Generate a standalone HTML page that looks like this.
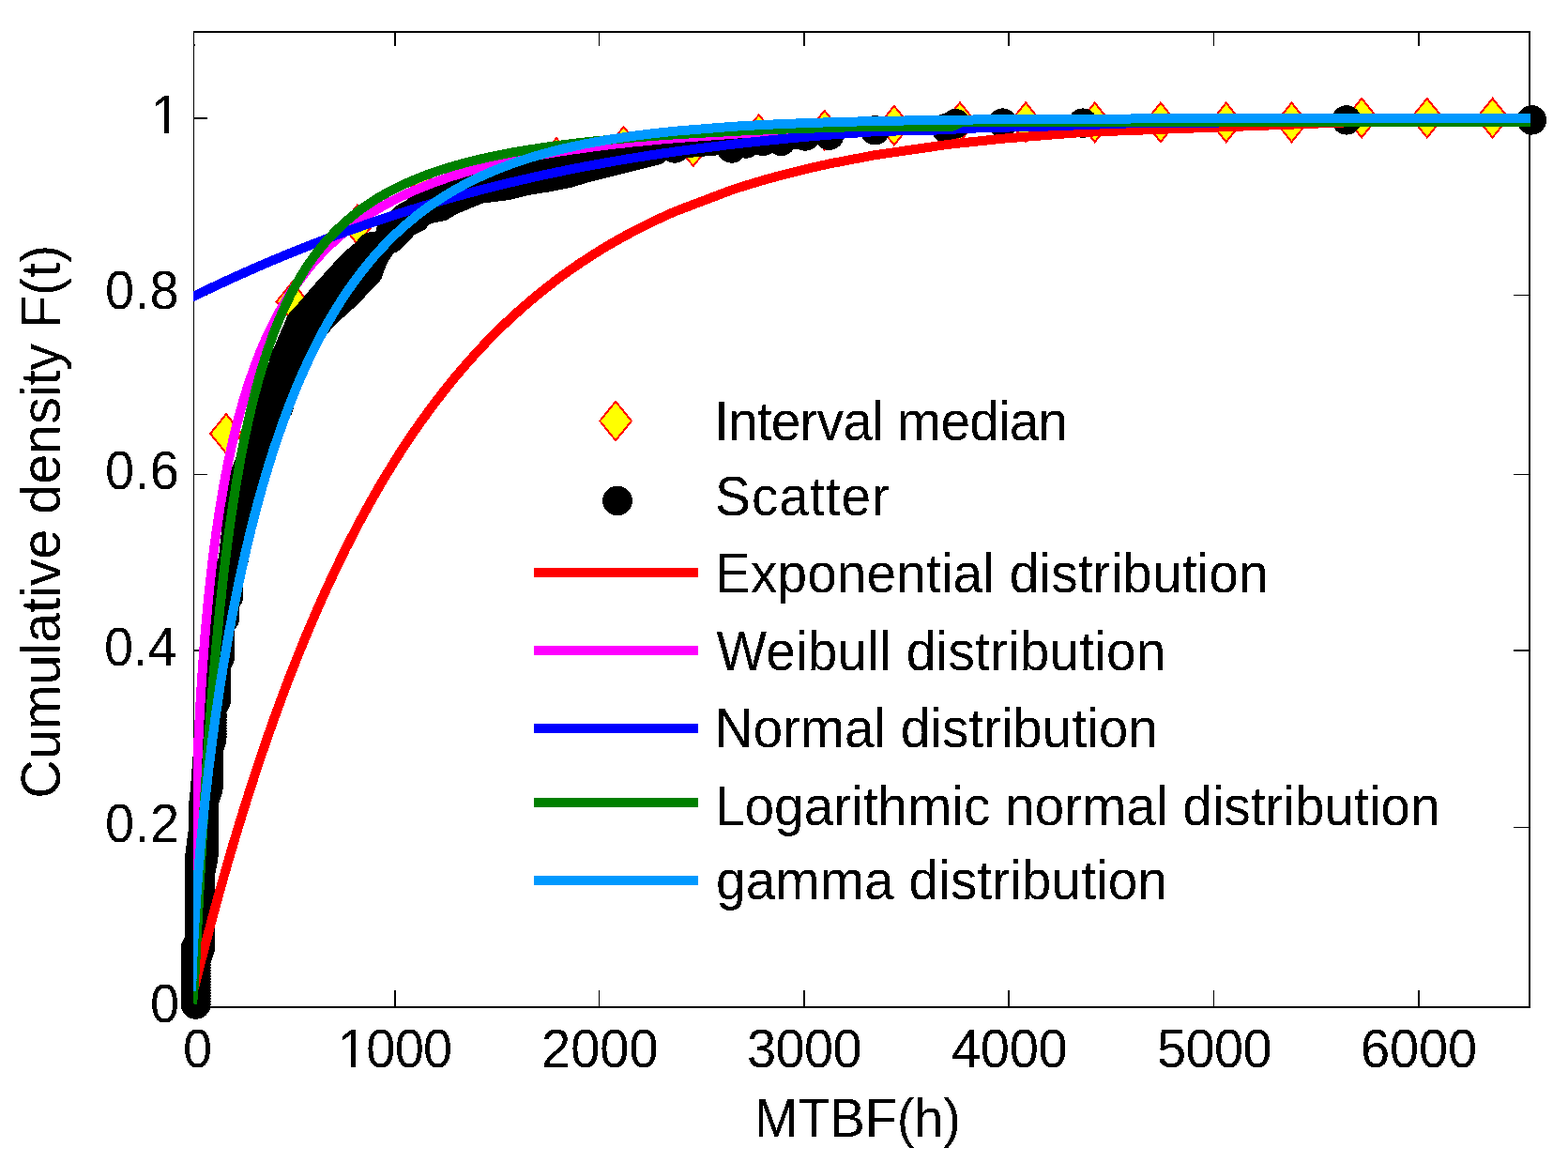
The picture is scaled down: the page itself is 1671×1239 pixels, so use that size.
<!DOCTYPE html><html><head><meta charset="utf-8"><title>MTBF cumulative density</title><style>html,body{margin:0;padding:0;background:#fff;overflow:hidden}svg{display:block}text{font-family:"Liberation Sans",Arial,Helvetica,sans-serif;fill:#000}</style></head><body>
<svg width="1671" height="1239" viewBox="0 0 1671 1239" shape-rendering="crispEdges">
<rect width="1671" height="1239" fill="#fff"/>
<defs><clipPath id="ax"><rect x="206" y="33" width="1425" height="1041"/></clipPath><filter id="bin" x="-5%" y="-20%" width="110%" height="140%" color-interpolation-filters="sRGB"><feComponentTransfer><feFuncA type="discrete" tableValues="0 1"/></feComponentTransfer></filter></defs>
<g fill="#000"><rect x="206" y="33" width="1" height="1041"/><rect x="1629" y="33" width="2" height="1041"/><rect x="206" y="33" width="1425" height="2"/><rect x="206" y="1072" width="1425" height="2"/><rect x="206" y="47" width="2" height="2"/></g>
<g fill="#000"><rect x="206" y="125.25" width="15" height="1.5"/><rect x="1613" y="125.25" width="17" height="1.5"/><rect x="206" y="313.75" width="15" height="1.5"/><rect x="1613" y="313.75" width="17" height="1.5"/><rect x="206" y="504.55" width="15" height="1.5"/><rect x="1613" y="504.55" width="17" height="1.5"/><rect x="206" y="692.05" width="15" height="1.5"/><rect x="1613" y="692.05" width="17" height="1.5"/><rect x="206" y="880.75" width="15" height="1.5"/><rect x="1613" y="880.75" width="17" height="1.5"/><rect x="420.25" y="1055" width="1.5" height="17"/><rect x="420.25" y="35" width="1.5" height="14"/><rect x="637.75" y="1055" width="1.5" height="17"/><rect x="637.75" y="35" width="1.5" height="14"/><rect x="856.25" y="1055" width="1.5" height="17"/><rect x="856.25" y="35" width="1.5" height="14"/><rect x="1074.25" y="1055" width="1.5" height="17"/><rect x="1074.25" y="35" width="1.5" height="14"/><rect x="1292.75" y="1055" width="1.5" height="17"/><rect x="1292.75" y="35" width="1.5" height="14"/><rect x="1511.25" y="1055" width="1.5" height="17"/><rect x="1511.25" y="35" width="1.5" height="14"/></g>
<g clip-path="url(#ax)">
<g fill="#ff0" stroke="#f00" stroke-width="2" stroke-linejoin="miter"><path d="M241.0,441.2 L257.9,462.0 L241.0,482.8 L224.1,462.0 Z"/><path d="M311.5,300.6 L328.4,321.4 L311.5,342.2 L294.6,321.4 Z"/><path d="M380.9,218.5 L397.8,239.3 L380.9,260.1 L364.0,239.3 Z"/><path d="M452.0,183.2 L468.9,204.0 L452.0,224.8 L435.1,204.0 Z"/><path d="M522.0,163.2 L538.9,184.0 L522.0,204.8 L505.1,184.0 Z"/><path d="M593.0,147.2 L609.9,168.0 L593.0,188.8 L576.1,168.0 Z"/><path d="M664.6,135.1 L681.5,155.9 L664.6,176.7 L647.7,155.9 Z"/><path d="M738.8,135.3 L755.7,156.1 L738.8,176.9 L721.9,156.1 Z"/><path d="M808.8,122.3 L825.7,143.1 L808.8,163.9 L791.9,143.1 Z"/><path d="M878.7,117.9 L895.6,138.7 L878.7,159.5 L861.8,138.7 Z"/><path d="M952.9,112.9 L969.8,133.7 L952.9,154.5 L936.0,133.7 Z"/><path d="M1023.0,109.3 L1039.9,130.1 L1023.0,150.9 L1006.1,130.1 Z"/><path d="M1093.1,109.3 L1110.0,130.1 L1093.1,150.9 L1076.2,130.1 Z"/><path d="M1166.7,109.6 L1183.6,130.4 L1166.7,151.2 L1149.8,130.4 Z"/><path d="M1236.9,109.6 L1253.8,130.4 L1236.9,151.2 L1220.0,130.4 Z"/><path d="M1306.7,109.6 L1323.6,130.4 L1306.7,151.2 L1289.8,130.4 Z"/><path d="M1376.5,109.6 L1393.4,130.4 L1376.5,151.2 L1359.6,130.4 Z"/><path d="M1451.1,104.9 L1468.0,125.7 L1451.1,146.5 L1434.2,125.7 Z"/><path d="M1520.8,104.9 L1537.7,125.7 L1520.8,146.5 L1503.9,125.7 Z"/><path d="M1590.6,104.9 L1607.5,125.7 L1590.6,146.5 L1573.7,125.7 Z"/></g>
</g>
<g fill="#000"><circle cx="208.4" cy="1070.0" r="15.7"/><circle cx="208.9" cy="1070.0" r="15.7"/><circle cx="208.4" cy="1067.0" r="15.7"/><circle cx="208.9" cy="1067.0" r="15.7"/><circle cx="208.4" cy="1064.0" r="15.7"/><circle cx="208.9" cy="1064.0" r="15.7"/><circle cx="208.4" cy="1061.0" r="15.7"/><circle cx="208.9" cy="1061.0" r="15.7"/><circle cx="208.4" cy="1058.0" r="15.7"/><circle cx="208.9" cy="1058.0" r="15.7"/><circle cx="208.4" cy="1055.0" r="15.7"/><circle cx="208.9" cy="1055.0" r="15.7"/><circle cx="208.4" cy="1052.0" r="15.7"/><circle cx="208.9" cy="1052.0" r="15.7"/><circle cx="208.4" cy="1049.0" r="15.7"/><circle cx="208.9" cy="1049.0" r="15.7"/><circle cx="208.4" cy="1046.0" r="15.7"/><circle cx="208.9" cy="1046.0" r="15.7"/><circle cx="208.4" cy="1043.0" r="15.7"/><circle cx="208.9" cy="1043.0" r="15.7"/><circle cx="208.4" cy="1040.0" r="15.7"/><circle cx="208.9" cy="1040.0" r="15.7"/><circle cx="208.4" cy="1037.0" r="15.7"/><circle cx="208.9" cy="1037.0" r="15.7"/><circle cx="208.4" cy="1034.0" r="15.7"/><circle cx="208.9" cy="1034.0" r="15.7"/><circle cx="208.4" cy="1031.0" r="15.7"/><circle cx="208.9" cy="1031.0" r="15.7"/><circle cx="208.4" cy="1028.0" r="15.7"/><circle cx="208.9" cy="1028.0" r="15.7"/><circle cx="208.4" cy="1025.0" r="15.7"/><circle cx="208.9" cy="1025.0" r="15.7"/><circle cx="208.4" cy="1022.0" r="15.7"/><circle cx="209.2" cy="1022.0" r="15.7"/><circle cx="208.4" cy="1019.0" r="15.7"/><circle cx="210.3" cy="1019.0" r="15.7"/><circle cx="208.4" cy="1016.0" r="15.7"/><circle cx="211.3" cy="1016.0" r="15.7"/><circle cx="208.4" cy="1013.0" r="15.7"/><circle cx="212.4" cy="1013.0" r="15.7"/><circle cx="208.4" cy="1010.0" r="15.7"/><circle cx="213.4" cy="1010.0" r="15.7"/><circle cx="210.1" cy="1007.0" r="15.7"/><circle cx="213.4" cy="1007.0" r="15.7"/><circle cx="211.8" cy="1004.0" r="15.7"/><circle cx="213.4" cy="1004.0" r="15.7"/><circle cx="212.4" cy="1001.0" r="15.7"/><circle cx="213.4" cy="1001.0" r="15.7"/><circle cx="212.4" cy="998.0" r="15.7"/><circle cx="213.4" cy="998.0" r="15.7"/><circle cx="212.4" cy="995.0" r="15.7"/><circle cx="213.4" cy="995.0" r="15.7"/><circle cx="212.4" cy="992.0" r="15.7"/><circle cx="213.4" cy="992.0" r="15.7"/><circle cx="212.5" cy="989.0" r="15.7"/><circle cx="213.3" cy="989.0" r="15.7"/><circle cx="212.5" cy="986.0" r="15.7"/><circle cx="213.3" cy="986.0" r="15.7"/><circle cx="212.5" cy="983.0" r="15.7"/><circle cx="213.3" cy="983.0" r="15.7"/><circle cx="212.5" cy="980.0" r="15.7"/><circle cx="213.3" cy="980.0" r="15.7"/><circle cx="212.5" cy="977.0" r="15.7"/><circle cx="213.3" cy="977.0" r="15.7"/><circle cx="212.5" cy="974.0" r="15.7"/><circle cx="213.3" cy="974.0" r="15.7"/><circle cx="212.5" cy="971.0" r="15.7"/><circle cx="213.3" cy="971.0" r="15.7"/><circle cx="212.5" cy="968.0" r="15.7"/><circle cx="213.3" cy="968.0" r="15.7"/><circle cx="212.6" cy="965.0" r="15.7"/><circle cx="213.2" cy="965.0" r="15.7"/><circle cx="212.6" cy="962.0" r="15.7"/><circle cx="213.2" cy="962.0" r="15.7"/><circle cx="212.6" cy="959.0" r="15.7"/><circle cx="213.2" cy="959.0" r="15.7"/><circle cx="212.6" cy="956.0" r="15.7"/><circle cx="213.2" cy="956.0" r="15.7"/><circle cx="212.6" cy="953.0" r="15.7"/><circle cx="213.2" cy="953.0" r="15.7"/><circle cx="212.6" cy="950.0" r="15.7"/><circle cx="213.2" cy="950.0" r="15.7"/><circle cx="212.6" cy="947.0" r="15.7"/><circle cx="213.2" cy="947.0" r="15.7"/><circle cx="212.6" cy="944.0" r="15.7"/><circle cx="213.2" cy="944.0" r="15.7"/><circle cx="212.7" cy="941.0" r="15.7"/><circle cx="213.1" cy="941.0" r="15.7"/><circle cx="212.7" cy="938.0" r="15.7"/><circle cx="213.1" cy="938.0" r="15.7"/><circle cx="212.7" cy="935.0" r="15.7"/><circle cx="213.1" cy="935.0" r="15.7"/><circle cx="212.7" cy="932.0" r="15.7"/><circle cx="213.1" cy="932.0" r="15.7"/><circle cx="212.7" cy="929.0" r="15.7"/><circle cx="213.7" cy="929.0" r="15.7"/><circle cx="212.7" cy="926.0" r="15.7"/><circle cx="214.3" cy="926.0" r="15.7"/><circle cx="212.7" cy="923.0" r="15.7"/><circle cx="214.9" cy="923.0" r="15.7"/><circle cx="212.7" cy="920.0" r="15.7"/><circle cx="215.6" cy="920.0" r="15.7"/><circle cx="212.7" cy="917.0" r="15.7"/><circle cx="216.2" cy="917.0" r="15.7"/><circle cx="212.7" cy="914.0" r="15.7"/><circle cx="216.8" cy="914.0" r="15.7"/><circle cx="213.0" cy="911.0" r="15.7"/><circle cx="217.0" cy="911.0" r="15.7"/><circle cx="213.4" cy="908.0" r="15.7"/><circle cx="217.0" cy="908.0" r="15.7"/><circle cx="213.7" cy="905.0" r="15.7"/><circle cx="217.0" cy="905.0" r="15.7"/><circle cx="214.1" cy="902.0" r="15.7"/><circle cx="217.0" cy="902.0" r="15.7"/><circle cx="214.5" cy="899.0" r="15.7"/><circle cx="217.0" cy="899.0" r="15.7"/><circle cx="214.9" cy="896.0" r="15.7"/><circle cx="217.0" cy="896.0" r="15.7"/><circle cx="215.3" cy="893.0" r="15.7"/><circle cx="217.0" cy="893.0" r="15.7"/><circle cx="215.7" cy="890.0" r="15.7"/><circle cx="217.0" cy="890.0" r="15.7"/><circle cx="216.1" cy="887.0" r="15.7"/><circle cx="217.0" cy="887.0" r="15.7"/><circle cx="216.5" cy="884.0" r="15.7"/><circle cx="217.0" cy="884.0" r="15.7"/><circle cx="216.9" cy="881.0" r="15.7"/><circle cx="217.0" cy="881.0" r="15.7"/><circle cx="217.0" cy="878.0" r="15.7"/><circle cx="217.0" cy="878.0" r="15.7"/><circle cx="217.0" cy="875.0" r="15.7"/><circle cx="217.0" cy="875.0" r="15.7"/><circle cx="217.0" cy="872.0" r="15.7"/><circle cx="217.0" cy="872.0" r="15.7"/><circle cx="217.0" cy="869.0" r="15.7"/><circle cx="217.0" cy="869.0" r="15.7"/><circle cx="217.0" cy="866.0" r="15.7"/><circle cx="217.0" cy="866.0" r="15.7"/><circle cx="217.0" cy="863.0" r="15.7"/><circle cx="217.0" cy="863.0" r="15.7"/><circle cx="217.0" cy="860.0" r="15.7"/><circle cx="217.0" cy="860.0" r="15.7"/><circle cx="217.0" cy="857.0" r="15.7"/><circle cx="217.0" cy="857.0" r="15.7"/><circle cx="217.1" cy="854.0" r="15.7"/><circle cx="217.3" cy="854.0" r="15.7"/><circle cx="217.4" cy="851.0" r="15.7"/><circle cx="218.3" cy="851.0" r="15.7"/><circle cx="217.7" cy="848.0" r="15.7"/><circle cx="219.3" cy="848.0" r="15.7"/><circle cx="218.1" cy="845.0" r="15.7"/><circle cx="220.3" cy="845.0" r="15.7"/><circle cx="218.4" cy="842.0" r="15.7"/><circle cx="221.3" cy="842.0" r="15.7"/><circle cx="218.7" cy="839.0" r="15.7"/><circle cx="222.0" cy="839.0" r="15.7"/><circle cx="218.9" cy="836.0" r="15.7"/><circle cx="222.0" cy="836.0" r="15.7"/><circle cx="219.1" cy="833.0" r="15.7"/><circle cx="222.0" cy="833.0" r="15.7"/><circle cx="219.3" cy="830.0" r="15.7"/><circle cx="222.0" cy="830.0" r="15.7"/><circle cx="219.6" cy="827.0" r="15.7"/><circle cx="222.0" cy="827.0" r="15.7"/><circle cx="219.8" cy="824.0" r="15.7"/><circle cx="222.0" cy="824.0" r="15.7"/><circle cx="220.0" cy="821.0" r="15.7"/><circle cx="222.0" cy="821.0" r="15.7"/><circle cx="220.2" cy="818.0" r="15.7"/><circle cx="222.0" cy="818.0" r="15.7"/><circle cx="220.5" cy="815.0" r="15.7"/><circle cx="222.0" cy="815.0" r="15.7"/><circle cx="220.7" cy="812.0" r="15.7"/><circle cx="222.0" cy="812.0" r="15.7"/><circle cx="220.9" cy="809.0" r="15.7"/><circle cx="222.0" cy="809.0" r="15.7"/><circle cx="221.2" cy="806.0" r="15.7"/><circle cx="222.0" cy="806.0" r="15.7"/><circle cx="221.4" cy="803.0" r="15.7"/><circle cx="222.0" cy="803.0" r="15.7"/><circle cx="221.6" cy="800.0" r="15.7"/><circle cx="222.0" cy="800.0" r="15.7"/><circle cx="222.5" cy="797.0" r="15.7"/><circle cx="222.9" cy="797.0" r="15.7"/><circle cx="223.4" cy="794.0" r="15.7"/><circle cx="223.8" cy="794.0" r="15.7"/><circle cx="224.4" cy="791.0" r="15.7"/><circle cx="224.7" cy="791.0" r="15.7"/><circle cx="225.3" cy="788.0" r="15.7"/><circle cx="225.6" cy="788.0" r="15.7"/><circle cx="225.6" cy="785.0" r="15.7"/><circle cx="225.9" cy="785.0" r="15.7"/><circle cx="225.6" cy="782.0" r="15.7"/><circle cx="225.9" cy="782.0" r="15.7"/><circle cx="225.6" cy="779.0" r="15.7"/><circle cx="225.9" cy="779.0" r="15.7"/><circle cx="225.6" cy="776.0" r="15.7"/><circle cx="225.9" cy="776.0" r="15.7"/><circle cx="225.6" cy="773.0" r="15.7"/><circle cx="225.9" cy="773.0" r="15.7"/><circle cx="225.6" cy="770.0" r="15.7"/><circle cx="225.9" cy="770.0" r="15.7"/><circle cx="225.6" cy="767.0" r="15.7"/><circle cx="225.9" cy="767.0" r="15.7"/><circle cx="225.6" cy="764.0" r="15.7"/><circle cx="225.9" cy="764.0" r="15.7"/><circle cx="225.6" cy="761.0" r="15.7"/><circle cx="225.9" cy="761.0" r="15.7"/><circle cx="225.6" cy="758.0" r="15.7"/><circle cx="225.9" cy="758.0" r="15.7"/><circle cx="225.6" cy="755.0" r="15.7"/><circle cx="225.9" cy="755.0" r="15.7"/><circle cx="226.3" cy="752.0" r="15.7"/><circle cx="226.7" cy="752.0" r="15.7"/><circle cx="228.3" cy="749.0" r="15.7"/><circle cx="228.9" cy="749.0" r="15.7"/><circle cx="229.6" cy="746.0" r="15.7"/><circle cx="230.4" cy="746.0" r="15.7"/><circle cx="229.6" cy="743.0" r="15.7"/><circle cx="230.4" cy="743.0" r="15.7"/><circle cx="229.6" cy="740.0" r="15.7"/><circle cx="230.4" cy="740.0" r="15.7"/><circle cx="229.6" cy="737.0" r="15.7"/><circle cx="230.4" cy="737.0" r="15.7"/><circle cx="229.6" cy="734.0" r="15.7"/><circle cx="230.4" cy="734.0" r="15.7"/><circle cx="229.6" cy="731.0" r="15.7"/><circle cx="230.4" cy="731.0" r="15.7"/><circle cx="229.6" cy="728.0" r="15.7"/><circle cx="230.4" cy="728.0" r="15.7"/><circle cx="229.6" cy="725.0" r="15.7"/><circle cx="230.4" cy="725.0" r="15.7"/><circle cx="229.6" cy="722.0" r="15.7"/><circle cx="230.4" cy="722.0" r="15.7"/><circle cx="229.6" cy="719.0" r="15.7"/><circle cx="230.4" cy="719.0" r="15.7"/><circle cx="229.6" cy="716.0" r="15.7"/><circle cx="230.4" cy="716.0" r="15.7"/><circle cx="229.6" cy="713.0" r="15.7"/><circle cx="230.4" cy="713.0" r="15.7"/><circle cx="229.6" cy="710.0" r="15.7"/><circle cx="230.4" cy="710.0" r="15.7"/><circle cx="229.6" cy="707.0" r="15.7"/><circle cx="230.4" cy="707.0" r="15.7"/><circle cx="231.3" cy="704.0" r="15.7"/><circle cx="231.9" cy="704.0" r="15.7"/><circle cx="233.8" cy="701.0" r="15.7"/><circle cx="234.1" cy="701.0" r="15.7"/><circle cx="234.6" cy="698.0" r="15.7"/><circle cx="234.8" cy="698.0" r="15.7"/><circle cx="234.6" cy="695.0" r="15.7"/><circle cx="234.8" cy="695.0" r="15.7"/><circle cx="234.6" cy="692.0" r="15.7"/><circle cx="234.8" cy="692.0" r="15.7"/><circle cx="234.6" cy="689.0" r="15.7"/><circle cx="234.8" cy="689.0" r="15.7"/><circle cx="234.6" cy="686.0" r="15.7"/><circle cx="234.8" cy="686.0" r="15.7"/><circle cx="234.6" cy="683.0" r="15.7"/><circle cx="234.8" cy="683.0" r="15.7"/><circle cx="234.6" cy="680.0" r="15.7"/><circle cx="234.8" cy="680.0" r="15.7"/><circle cx="234.6" cy="677.0" r="15.7"/><circle cx="234.8" cy="677.0" r="15.7"/><circle cx="234.6" cy="674.0" r="15.7"/><circle cx="234.8" cy="674.0" r="15.7"/><circle cx="234.6" cy="671.0" r="15.7"/><circle cx="234.8" cy="671.0" r="15.7"/><circle cx="234.6" cy="668.0" r="15.7"/><circle cx="234.8" cy="668.0" r="15.7"/><circle cx="234.6" cy="665.0" r="15.7"/><circle cx="234.8" cy="665.0" r="15.7"/><circle cx="234.6" cy="662.0" r="15.7"/><circle cx="234.8" cy="662.0" r="15.7"/><circle cx="238.6" cy="659.0" r="15.7"/><circle cx="239.3" cy="659.0" r="15.7"/><circle cx="238.6" cy="656.0" r="15.7"/><circle cx="239.3" cy="656.0" r="15.7"/><circle cx="238.6" cy="653.0" r="15.7"/><circle cx="239.3" cy="653.0" r="15.7"/><circle cx="238.6" cy="650.0" r="15.7"/><circle cx="239.3" cy="650.0" r="15.7"/><circle cx="238.6" cy="647.0" r="15.7"/><circle cx="239.3" cy="647.0" r="15.7"/><circle cx="238.6" cy="644.0" r="15.7"/><circle cx="239.3" cy="644.0" r="15.7"/><circle cx="238.6" cy="641.0" r="15.7"/><circle cx="239.3" cy="641.0" r="15.7"/><circle cx="241.6" cy="638.0" r="15.7"/><circle cx="242.0" cy="638.0" r="15.7"/><circle cx="243.6" cy="635.0" r="15.7"/><circle cx="243.8" cy="635.0" r="15.7"/><circle cx="243.6" cy="632.0" r="15.7"/><circle cx="243.8" cy="632.0" r="15.7"/><circle cx="243.6" cy="629.0" r="15.7"/><circle cx="243.8" cy="629.0" r="15.7"/><circle cx="243.6" cy="626.0" r="15.7"/><circle cx="243.8" cy="626.0" r="15.7"/><circle cx="243.6" cy="623.0" r="15.7"/><circle cx="243.8" cy="623.0" r="15.7"/><circle cx="243.6" cy="620.0" r="15.7"/><circle cx="243.8" cy="620.0" r="15.7"/><circle cx="243.6" cy="617.0" r="15.7"/><circle cx="243.8" cy="617.0" r="15.7"/><circle cx="243.8" cy="614.0" r="15.7"/><circle cx="244.1" cy="614.0" r="15.7"/><circle cx="244.6" cy="611.0" r="15.7"/><circle cx="244.9" cy="611.0" r="15.7"/><circle cx="245.3" cy="608.0" r="15.7"/><circle cx="245.8" cy="608.0" r="15.7"/><circle cx="246.1" cy="605.0" r="15.7"/><circle cx="246.6" cy="605.0" r="15.7"/><circle cx="246.8" cy="602.0" r="15.7"/><circle cx="247.4" cy="602.0" r="15.7"/><circle cx="247.6" cy="599.0" r="15.7"/><circle cx="248.3" cy="599.0" r="15.7"/><circle cx="248.3" cy="596.0" r="15.7"/><circle cx="249.1" cy="596.0" r="15.7"/><circle cx="248.8" cy="593.0" r="15.7"/><circle cx="249.8" cy="593.0" r="15.7"/><circle cx="249.1" cy="590.0" r="15.7"/><circle cx="250.3" cy="590.0" r="15.7"/><circle cx="249.4" cy="587.0" r="15.7"/><circle cx="250.8" cy="587.0" r="15.7"/><circle cx="249.7" cy="584.0" r="15.7"/><circle cx="251.4" cy="584.0" r="15.7"/><circle cx="250.0" cy="581.0" r="15.7"/><circle cx="251.9" cy="581.0" r="15.7"/><circle cx="250.3" cy="578.0" r="15.7"/><circle cx="252.5" cy="578.0" r="15.7"/><circle cx="250.7" cy="575.0" r="15.7"/><circle cx="253.0" cy="575.0" r="15.7"/><circle cx="251.0" cy="572.0" r="15.7"/><circle cx="253.5" cy="572.0" r="15.7"/><circle cx="251.3" cy="569.0" r="15.7"/><circle cx="254.1" cy="569.0" r="15.7"/><circle cx="251.6" cy="566.0" r="15.7"/><circle cx="254.6" cy="566.0" r="15.7"/><circle cx="251.9" cy="563.0" r="15.7"/><circle cx="255.1" cy="563.0" r="15.7"/><circle cx="252.2" cy="560.0" r="15.7"/><circle cx="255.7" cy="560.0" r="15.7"/><circle cx="252.5" cy="557.0" r="15.7"/><circle cx="256.2" cy="557.0" r="15.7"/><circle cx="252.8" cy="554.0" r="15.7"/><circle cx="256.9" cy="554.0" r="15.7"/><circle cx="253.1" cy="551.0" r="15.7"/><circle cx="257.7" cy="551.0" r="15.7"/><circle cx="253.4" cy="548.0" r="15.7"/><circle cx="258.5" cy="548.0" r="15.7"/><circle cx="253.7" cy="545.0" r="15.7"/><circle cx="259.2" cy="545.0" r="15.7"/><circle cx="254.0" cy="542.0" r="15.7"/><circle cx="260.0" cy="542.0" r="15.7"/><circle cx="254.3" cy="539.0" r="15.7"/><circle cx="257.6" cy="539.0" r="15.7"/><circle cx="260.8" cy="539.0" r="15.7"/><circle cx="254.7" cy="536.0" r="15.7"/><circle cx="258.1" cy="536.0" r="15.7"/><circle cx="261.5" cy="536.0" r="15.7"/><circle cx="255.0" cy="533.0" r="15.7"/><circle cx="258.6" cy="533.0" r="15.7"/><circle cx="262.3" cy="533.0" r="15.7"/><circle cx="255.3" cy="530.0" r="15.7"/><circle cx="259.2" cy="530.0" r="15.7"/><circle cx="263.1" cy="530.0" r="15.7"/><circle cx="255.6" cy="527.0" r="15.7"/><circle cx="259.7" cy="527.0" r="15.7"/><circle cx="263.8" cy="527.0" r="15.7"/><circle cx="255.9" cy="524.0" r="15.7"/><circle cx="260.2" cy="524.0" r="15.7"/><circle cx="264.6" cy="524.0" r="15.7"/><circle cx="256.2" cy="521.0" r="15.7"/><circle cx="260.8" cy="521.0" r="15.7"/><circle cx="265.4" cy="521.0" r="15.7"/><circle cx="256.5" cy="518.0" r="15.7"/><circle cx="261.3" cy="518.0" r="15.7"/><circle cx="266.1" cy="518.0" r="15.7"/><circle cx="257.4" cy="515.0" r="15.7"/><circle cx="262.1" cy="515.0" r="15.7"/><circle cx="266.8" cy="515.0" r="15.7"/><circle cx="258.6" cy="512.0" r="15.7"/><circle cx="262.9" cy="512.0" r="15.7"/><circle cx="267.3" cy="512.0" r="15.7"/><circle cx="259.8" cy="509.0" r="15.7"/><circle cx="263.8" cy="509.0" r="15.7"/><circle cx="267.9" cy="509.0" r="15.7"/><circle cx="260.9" cy="506.0" r="15.7"/><circle cx="264.7" cy="506.0" r="15.7"/><circle cx="268.4" cy="506.0" r="15.7"/><circle cx="262.1" cy="503.0" r="15.7"/><circle cx="265.6" cy="503.0" r="15.7"/><circle cx="269.0" cy="503.0" r="15.7"/><circle cx="263.3" cy="500.0" r="15.7"/><circle cx="266.4" cy="500.0" r="15.7"/><circle cx="269.5" cy="500.0" r="15.7"/><circle cx="264.5" cy="497.0" r="15.7"/><circle cx="270.1" cy="497.0" r="15.7"/><circle cx="265.7" cy="494.0" r="15.7"/><circle cx="270.6" cy="494.0" r="15.7"/><circle cx="266.9" cy="491.0" r="15.7"/><circle cx="271.2" cy="491.0" r="15.7"/><circle cx="268.0" cy="488.0" r="15.7"/><circle cx="271.7" cy="488.0" r="15.7"/><circle cx="269.2" cy="485.0" r="15.7"/><circle cx="272.3" cy="485.0" r="15.7"/><circle cx="270.4" cy="482.0" r="15.7"/><circle cx="272.8" cy="482.0" r="15.7"/><circle cx="271.6" cy="479.0" r="15.7"/><circle cx="273.4" cy="479.0" r="15.7"/><circle cx="272.5" cy="476.0" r="15.7"/><circle cx="274.9" cy="476.0" r="15.7"/><circle cx="273.4" cy="473.0" r="15.7"/><circle cx="276.3" cy="473.0" r="15.7"/><circle cx="274.3" cy="470.0" r="15.7"/><circle cx="277.8" cy="470.0" r="15.7"/><circle cx="275.2" cy="467.0" r="15.7"/><circle cx="279.2" cy="467.0" r="15.7"/><circle cx="276.1" cy="464.0" r="15.7"/><circle cx="280.7" cy="464.0" r="15.7"/><circle cx="277.1" cy="461.0" r="15.7"/><circle cx="282.1" cy="461.0" r="15.7"/><circle cx="278.0" cy="458.0" r="15.7"/><circle cx="283.6" cy="458.0" r="15.7"/><circle cx="278.9" cy="455.0" r="15.7"/><circle cx="282.0" cy="455.0" r="15.7"/><circle cx="285.0" cy="455.0" r="15.7"/><circle cx="279.8" cy="452.0" r="15.7"/><circle cx="283.1" cy="452.0" r="15.7"/><circle cx="286.5" cy="452.0" r="15.7"/><circle cx="280.7" cy="449.0" r="15.7"/><circle cx="284.3" cy="449.0" r="15.7"/><circle cx="287.9" cy="449.0" r="15.7"/><circle cx="281.6" cy="446.0" r="15.7"/><circle cx="285.5" cy="446.0" r="15.7"/><circle cx="289.4" cy="446.0" r="15.7"/><circle cx="283.2" cy="443.0" r="15.7"/><circle cx="287.2" cy="443.0" r="15.7"/><circle cx="291.2" cy="443.0" r="15.7"/><circle cx="284.8" cy="440.0" r="15.7"/><circle cx="289.0" cy="440.0" r="15.7"/><circle cx="293.1" cy="440.0" r="15.7"/><circle cx="286.4" cy="437.0" r="15.7"/><circle cx="290.7" cy="437.0" r="15.7"/><circle cx="294.9" cy="437.0" r="15.7"/><circle cx="288.1" cy="434.0" r="15.7"/><circle cx="292.4" cy="434.0" r="15.7"/><circle cx="296.8" cy="434.0" r="15.7"/><circle cx="289.2" cy="431.0" r="15.7"/><circle cx="293.5" cy="431.0" r="15.7"/><circle cx="297.8" cy="431.0" r="15.7"/><circle cx="290.1" cy="428.0" r="15.7"/><circle cx="294.2" cy="428.0" r="15.7"/><circle cx="298.4" cy="428.0" r="15.7"/><circle cx="291.0" cy="425.0" r="15.7"/><circle cx="295.0" cy="425.0" r="15.7"/><circle cx="299.0" cy="425.0" r="15.7"/><circle cx="291.9" cy="422.0" r="15.7"/><circle cx="295.7" cy="422.0" r="15.7"/><circle cx="299.5" cy="422.0" r="15.7"/><circle cx="292.8" cy="419.0" r="15.7"/><circle cx="296.5" cy="419.0" r="15.7"/><circle cx="300.1" cy="419.0" r="15.7"/><circle cx="293.7" cy="416.0" r="15.7"/><circle cx="297.2" cy="416.0" r="15.7"/><circle cx="300.7" cy="416.0" r="15.7"/><circle cx="294.6" cy="413.0" r="15.7"/><circle cx="298.0" cy="413.0" r="15.7"/><circle cx="301.3" cy="413.0" r="15.7"/><circle cx="295.5" cy="410.0" r="15.7"/><circle cx="298.7" cy="410.0" r="15.7"/><circle cx="301.9" cy="410.0" r="15.7"/><circle cx="296.4" cy="407.0" r="15.7"/><circle cx="299.4" cy="407.0" r="15.7"/><circle cx="302.5" cy="407.0" r="15.7"/><circle cx="297.3" cy="404.0" r="15.7"/><circle cx="303.0" cy="404.0" r="15.7"/><circle cx="298.2" cy="401.0" r="15.7"/><circle cx="303.6" cy="401.0" r="15.7"/><circle cx="299.2" cy="398.0" r="15.7"/><circle cx="304.2" cy="398.0" r="15.7"/><circle cx="300.1" cy="395.0" r="15.7"/><circle cx="304.8" cy="395.0" r="15.7"/><circle cx="301.0" cy="392.0" r="15.7"/><circle cx="305.4" cy="392.0" r="15.7"/><circle cx="301.9" cy="389.0" r="15.7"/><circle cx="306.0" cy="389.0" r="15.7"/><circle cx="302.8" cy="386.0" r="15.7"/><circle cx="306.5" cy="386.0" r="15.7"/><circle cx="303.7" cy="383.0" r="15.7"/><circle cx="307.1" cy="383.0" r="15.7"/><circle cx="304.8" cy="380.0" r="15.7"/><circle cx="308.7" cy="380.0" r="15.7"/><circle cx="306.1" cy="377.0" r="15.7"/><circle cx="311.2" cy="377.0" r="15.7"/><circle cx="307.3" cy="374.0" r="15.7"/><circle cx="310.5" cy="374.0" r="15.7"/><circle cx="313.7" cy="374.0" r="15.7"/><circle cx="308.6" cy="371.0" r="15.7"/><circle cx="312.4" cy="371.0" r="15.7"/><circle cx="316.2" cy="371.0" r="15.7"/><circle cx="309.9" cy="368.0" r="15.7"/><circle cx="314.3" cy="368.0" r="15.7"/><circle cx="318.6" cy="368.0" r="15.7"/><circle cx="311.2" cy="365.0" r="15.7"/><circle cx="316.2" cy="365.0" r="15.7"/><circle cx="321.1" cy="365.0" r="15.7"/><circle cx="312.5" cy="362.0" r="15.7"/><circle cx="318.0" cy="362.0" r="15.7"/><circle cx="323.6" cy="362.0" r="15.7"/><circle cx="313.7" cy="359.0" r="15.7"/><circle cx="317.9" cy="359.0" r="15.7"/><circle cx="322.0" cy="359.0" r="15.7"/><circle cx="326.1" cy="359.0" r="15.7"/><circle cx="315.0" cy="356.0" r="15.7"/><circle cx="319.5" cy="356.0" r="15.7"/><circle cx="324.1" cy="356.0" r="15.7"/><circle cx="328.6" cy="356.0" r="15.7"/><circle cx="316.3" cy="353.0" r="15.7"/><circle cx="321.2" cy="353.0" r="15.7"/><circle cx="326.1" cy="353.0" r="15.7"/><circle cx="331.0" cy="353.0" r="15.7"/><circle cx="317.6" cy="350.0" r="15.7"/><circle cx="322.9" cy="350.0" r="15.7"/><circle cx="328.2" cy="350.0" r="15.7"/><circle cx="333.5" cy="350.0" r="15.7"/><circle cx="318.9" cy="347.0" r="15.7"/><circle cx="324.6" cy="347.0" r="15.7"/><circle cx="330.3" cy="347.0" r="15.7"/><circle cx="336.0" cy="347.0" r="15.7"/><circle cx="320.1" cy="344.0" r="15.7"/><circle cx="324.7" cy="344.0" r="15.7"/><circle cx="329.3" cy="344.0" r="15.7"/><circle cx="333.9" cy="344.0" r="15.7"/><circle cx="338.5" cy="344.0" r="15.7"/><circle cx="322.5" cy="341.0" r="15.7"/><circle cx="327.1" cy="341.0" r="15.7"/><circle cx="331.7" cy="341.0" r="15.7"/><circle cx="336.3" cy="341.0" r="15.7"/><circle cx="340.8" cy="341.0" r="15.7"/><circle cx="325.6" cy="338.0" r="15.7"/><circle cx="331.4" cy="338.0" r="15.7"/><circle cx="337.3" cy="338.0" r="15.7"/><circle cx="343.1" cy="338.0" r="15.7"/><circle cx="328.2" cy="335.0" r="15.7"/><circle cx="332.7" cy="335.0" r="15.7"/><circle cx="337.2" cy="335.0" r="15.7"/><circle cx="341.7" cy="335.0" r="15.7"/><circle cx="346.2" cy="335.0" r="15.7"/><circle cx="330.8" cy="332.0" r="15.7"/><circle cx="335.5" cy="332.0" r="15.7"/><circle cx="340.2" cy="332.0" r="15.7"/><circle cx="344.9" cy="332.0" r="15.7"/><circle cx="349.5" cy="332.0" r="15.7"/><circle cx="333.4" cy="329.0" r="15.7"/><circle cx="338.2" cy="329.0" r="15.7"/><circle cx="343.1" cy="329.0" r="15.7"/><circle cx="348.0" cy="329.0" r="15.7"/><circle cx="352.8" cy="329.0" r="15.7"/><circle cx="336.0" cy="326.0" r="15.7"/><circle cx="341.0" cy="326.0" r="15.7"/><circle cx="346.0" cy="326.0" r="15.7"/><circle cx="351.1" cy="326.0" r="15.7"/><circle cx="356.1" cy="326.0" r="15.7"/><circle cx="338.5" cy="323.0" r="15.7"/><circle cx="343.7" cy="323.0" r="15.7"/><circle cx="349.0" cy="323.0" r="15.7"/><circle cx="354.2" cy="323.0" r="15.7"/><circle cx="359.4" cy="323.0" r="15.7"/><circle cx="341.1" cy="320.0" r="15.7"/><circle cx="346.5" cy="320.0" r="15.7"/><circle cx="351.9" cy="320.0" r="15.7"/><circle cx="357.3" cy="320.0" r="15.7"/><circle cx="362.7" cy="320.0" r="15.7"/><circle cx="343.7" cy="317.0" r="15.7"/><circle cx="349.2" cy="317.0" r="15.7"/><circle cx="354.8" cy="317.0" r="15.7"/><circle cx="360.4" cy="317.0" r="15.7"/><circle cx="366.0" cy="317.0" r="15.7"/><circle cx="346.2" cy="314.0" r="15.7"/><circle cx="352.0" cy="314.0" r="15.7"/><circle cx="357.8" cy="314.0" r="15.7"/><circle cx="363.5" cy="314.0" r="15.7"/><circle cx="369.3" cy="314.0" r="15.7"/><circle cx="348.9" cy="311.0" r="15.7"/><circle cx="354.7" cy="311.0" r="15.7"/><circle cx="360.6" cy="311.0" r="15.7"/><circle cx="366.4" cy="311.0" r="15.7"/><circle cx="372.2" cy="311.0" r="15.7"/><circle cx="351.6" cy="308.0" r="15.7"/><circle cx="357.5" cy="308.0" r="15.7"/><circle cx="363.3" cy="308.0" r="15.7"/><circle cx="369.2" cy="308.0" r="15.7"/><circle cx="375.1" cy="308.0" r="15.7"/><circle cx="354.3" cy="305.0" r="15.7"/><circle cx="360.2" cy="305.0" r="15.7"/><circle cx="366.1" cy="305.0" r="15.7"/><circle cx="372.0" cy="305.0" r="15.7"/><circle cx="377.9" cy="305.0" r="15.7"/><circle cx="357.1" cy="302.0" r="15.7"/><circle cx="363.0" cy="302.0" r="15.7"/><circle cx="368.9" cy="302.0" r="15.7"/><circle cx="374.9" cy="302.0" r="15.7"/><circle cx="380.8" cy="302.0" r="15.7"/><circle cx="359.8" cy="299.0" r="15.7"/><circle cx="365.7" cy="299.0" r="15.7"/><circle cx="371.7" cy="299.0" r="15.7"/><circle cx="377.7" cy="299.0" r="15.7"/><circle cx="383.7" cy="299.0" r="15.7"/><circle cx="362.5" cy="296.0" r="15.7"/><circle cx="367.3" cy="296.0" r="15.7"/><circle cx="372.1" cy="296.0" r="15.7"/><circle cx="376.9" cy="296.0" r="15.7"/><circle cx="381.7" cy="296.0" r="15.7"/><circle cx="386.6" cy="296.0" r="15.7"/><circle cx="365.2" cy="293.0" r="15.7"/><circle cx="370.0" cy="293.0" r="15.7"/><circle cx="374.9" cy="293.0" r="15.7"/><circle cx="379.7" cy="293.0" r="15.7"/><circle cx="384.6" cy="293.0" r="15.7"/><circle cx="389.4" cy="293.0" r="15.7"/><circle cx="367.9" cy="290.0" r="15.7"/><circle cx="372.8" cy="290.0" r="15.7"/><circle cx="377.7" cy="290.0" r="15.7"/><circle cx="382.5" cy="290.0" r="15.7"/><circle cx="387.4" cy="290.0" r="15.7"/><circle cx="392.3" cy="290.0" r="15.7"/><circle cx="370.8" cy="287.0" r="15.7"/><circle cx="376.4" cy="287.0" r="15.7"/><circle cx="382.1" cy="287.0" r="15.7"/><circle cx="387.7" cy="287.0" r="15.7"/><circle cx="393.4" cy="287.0" r="15.7"/><circle cx="373.6" cy="284.0" r="15.7"/><circle cx="378.8" cy="284.0" r="15.7"/><circle cx="384.1" cy="284.0" r="15.7"/><circle cx="389.3" cy="284.0" r="15.7"/><circle cx="394.5" cy="284.0" r="15.7"/><circle cx="376.5" cy="281.0" r="15.7"/><circle cx="381.3" cy="281.0" r="15.7"/><circle cx="386.0" cy="281.0" r="15.7"/><circle cx="390.8" cy="281.0" r="15.7"/><circle cx="395.6" cy="281.0" r="15.7"/><circle cx="379.6" cy="278.0" r="15.7"/><circle cx="385.3" cy="278.0" r="15.7"/><circle cx="391.0" cy="278.0" r="15.7"/><circle cx="396.8" cy="278.0" r="15.7"/><circle cx="383.3" cy="275.0" r="15.7"/><circle cx="388.2" cy="275.0" r="15.7"/><circle cx="393.2" cy="275.0" r="15.7"/><circle cx="398.1" cy="275.0" r="15.7"/><circle cx="387.0" cy="272.0" r="15.7"/><circle cx="391.2" cy="272.0" r="15.7"/><circle cx="395.3" cy="272.0" r="15.7"/><circle cx="399.5" cy="272.0" r="15.7"/><circle cx="390.4" cy="269.0" r="15.7"/><circle cx="395.7" cy="269.0" r="15.7"/><circle cx="401.0" cy="269.0" r="15.7"/><circle cx="393.1" cy="266.0" r="15.7"/><circle cx="398.1" cy="266.0" r="15.7"/><circle cx="403.1" cy="266.0" r="15.7"/><circle cx="395.7" cy="263.0" r="15.7"/><circle cx="400.4" cy="263.0" r="15.7"/><circle cx="405.1" cy="263.0" r="15.7"/><circle cx="416.0" cy="254.3" r="15.7"/><circle cx="416.0" cy="251.3" r="15.7"/><circle cx="416.0" cy="248.3" r="15.7"/><circle cx="419.0" cy="251.3" r="15.7"/><circle cx="419.0" cy="248.3" r="15.7"/><circle cx="419.0" cy="245.3" r="15.7"/><circle cx="422.0" cy="248.3" r="15.7"/><circle cx="422.0" cy="245.3" r="15.7"/><circle cx="422.0" cy="242.3" r="15.7"/><circle cx="425.0" cy="245.3" r="15.7"/><circle cx="425.0" cy="242.3" r="15.7"/><circle cx="425.0" cy="239.3" r="15.7"/><circle cx="428.0" cy="242.1" r="15.7"/><circle cx="428.0" cy="239.1" r="15.7"/><circle cx="428.0" cy="236.1" r="15.7"/><circle cx="431.0" cy="238.7" r="15.7"/><circle cx="431.0" cy="235.7" r="15.7"/><circle cx="431.0" cy="232.7" r="15.7"/><circle cx="434.0" cy="236.5" r="15.7"/><circle cx="434.0" cy="233.5" r="15.7"/><circle cx="434.0" cy="230.5" r="15.7"/><circle cx="437.0" cy="235.1" r="15.7"/><circle cx="437.0" cy="232.1" r="15.7"/><circle cx="437.0" cy="229.1" r="15.7"/><circle cx="440.0" cy="233.7" r="15.7"/><circle cx="440.0" cy="230.7" r="15.7"/><circle cx="440.0" cy="227.7" r="15.7"/><circle cx="443.0" cy="232.1" r="15.7"/><circle cx="443.0" cy="229.1" r="15.7"/><circle cx="443.0" cy="226.1" r="15.7"/><circle cx="446.0" cy="228.7" r="15.7"/><circle cx="446.0" cy="225.7" r="15.7"/><circle cx="446.0" cy="222.7" r="15.7"/><circle cx="449.0" cy="225.3" r="15.7"/><circle cx="449.0" cy="222.3" r="15.7"/><circle cx="449.0" cy="219.3" r="15.7"/><circle cx="452.0" cy="224.2" r="15.7"/><circle cx="452.0" cy="221.2" r="15.7"/><circle cx="452.0" cy="218.2" r="15.7"/><circle cx="455.0" cy="223.3" r="15.7"/><circle cx="455.0" cy="220.3" r="15.7"/><circle cx="455.0" cy="217.3" r="15.7"/><circle cx="458.0" cy="222.3" r="15.7"/><circle cx="458.0" cy="219.3" r="15.7"/><circle cx="458.0" cy="216.3" r="15.7"/><circle cx="461.0" cy="221.6" r="15.7"/><circle cx="461.0" cy="218.6" r="15.7"/><circle cx="461.0" cy="215.6" r="15.7"/><circle cx="464.0" cy="221.1" r="15.7"/><circle cx="464.0" cy="218.1" r="15.7"/><circle cx="464.0" cy="215.1" r="15.7"/><circle cx="467.0" cy="220.5" r="15.7"/><circle cx="467.0" cy="217.5" r="15.7"/><circle cx="467.0" cy="214.5" r="15.7"/><circle cx="470.0" cy="220.0" r="15.7"/><circle cx="470.0" cy="217.0" r="15.7"/><circle cx="470.0" cy="214.0" r="15.7"/><circle cx="473.0" cy="218.2" r="15.7"/><circle cx="473.0" cy="215.2" r="15.7"/><circle cx="473.0" cy="212.2" r="15.7"/><circle cx="476.0" cy="216.3" r="15.7"/><circle cx="476.0" cy="213.3" r="15.7"/><circle cx="476.0" cy="210.3" r="15.7"/><circle cx="479.0" cy="214.5" r="15.7"/><circle cx="479.0" cy="211.5" r="15.7"/><circle cx="479.0" cy="208.5" r="15.7"/><circle cx="482.0" cy="213.1" r="15.7"/><circle cx="482.0" cy="210.1" r="15.7"/><circle cx="482.0" cy="207.1" r="15.7"/><circle cx="485.0" cy="211.8" r="15.7"/><circle cx="485.0" cy="208.8" r="15.7"/><circle cx="485.0" cy="205.8" r="15.7"/><circle cx="488.0" cy="210.6" r="15.7"/><circle cx="488.0" cy="207.6" r="15.7"/><circle cx="488.0" cy="204.6" r="15.7"/><circle cx="491.0" cy="209.3" r="15.7"/><circle cx="491.0" cy="206.3" r="15.7"/><circle cx="491.0" cy="203.3" r="15.7"/><circle cx="494.0" cy="208.1" r="15.7"/><circle cx="494.0" cy="205.1" r="15.7"/><circle cx="494.0" cy="202.1" r="15.7"/><circle cx="497.0" cy="206.8" r="15.7"/><circle cx="497.0" cy="203.8" r="15.7"/><circle cx="497.0" cy="200.8" r="15.7"/><circle cx="500.0" cy="205.6" r="15.7"/><circle cx="500.0" cy="202.6" r="15.7"/><circle cx="500.0" cy="199.6" r="15.7"/><circle cx="503.0" cy="204.3" r="15.7"/><circle cx="503.0" cy="201.3" r="15.7"/><circle cx="503.0" cy="198.3" r="15.7"/><circle cx="506.0" cy="203.1" r="15.7"/><circle cx="506.0" cy="200.1" r="15.7"/><circle cx="506.0" cy="197.1" r="15.7"/><circle cx="509.0" cy="201.8" r="15.7"/><circle cx="509.0" cy="198.8" r="15.7"/><circle cx="509.0" cy="195.8" r="15.7"/><circle cx="512.0" cy="201.2" r="15.7"/><circle cx="512.0" cy="198.2" r="15.7"/><circle cx="512.0" cy="195.2" r="15.7"/><circle cx="515.0" cy="200.8" r="15.7"/><circle cx="515.0" cy="197.8" r="15.7"/><circle cx="515.0" cy="194.8" r="15.7"/><circle cx="518.0" cy="200.4" r="15.7"/><circle cx="518.0" cy="197.4" r="15.7"/><circle cx="518.0" cy="194.4" r="15.7"/><circle cx="521.0" cy="200.0" r="15.7"/><circle cx="521.0" cy="197.0" r="15.7"/><circle cx="521.0" cy="194.0" r="15.7"/><circle cx="524.0" cy="199.7" r="15.7"/><circle cx="524.0" cy="196.7" r="15.7"/><circle cx="524.0" cy="193.7" r="15.7"/><circle cx="527.0" cy="199.3" r="15.7"/><circle cx="527.0" cy="196.3" r="15.7"/><circle cx="527.0" cy="193.3" r="15.7"/><circle cx="530.0" cy="198.9" r="15.7"/><circle cx="530.0" cy="195.9" r="15.7"/><circle cx="530.0" cy="192.9" r="15.7"/><circle cx="533.0" cy="198.6" r="15.7"/><circle cx="533.0" cy="195.6" r="15.7"/><circle cx="533.0" cy="192.6" r="15.7"/><circle cx="536.0" cy="198.2" r="15.7"/><circle cx="536.0" cy="195.2" r="15.7"/><circle cx="536.0" cy="192.2" r="15.7"/><circle cx="539.0" cy="197.8" r="15.7"/><circle cx="539.0" cy="194.8" r="15.7"/><circle cx="539.0" cy="191.8" r="15.7"/><circle cx="542.0" cy="197.2" r="15.7"/><circle cx="542.0" cy="194.2" r="15.7"/><circle cx="542.0" cy="191.2" r="15.7"/><circle cx="545.0" cy="196.4" r="15.7"/><circle cx="545.0" cy="193.4" r="15.7"/><circle cx="545.0" cy="190.4" r="15.7"/><circle cx="548.0" cy="195.7" r="15.7"/><circle cx="548.0" cy="192.7" r="15.7"/><circle cx="548.0" cy="189.7" r="15.7"/><circle cx="551.0" cy="194.9" r="15.7"/><circle cx="551.0" cy="191.9" r="15.7"/><circle cx="551.0" cy="188.9" r="15.7"/><circle cx="554.0" cy="194.2" r="15.7"/><circle cx="554.0" cy="191.2" r="15.7"/><circle cx="554.0" cy="188.2" r="15.7"/><circle cx="557.0" cy="193.4" r="15.7"/><circle cx="557.0" cy="190.4" r="15.7"/><circle cx="557.0" cy="187.4" r="15.7"/><circle cx="560.0" cy="192.7" r="15.7"/><circle cx="560.0" cy="189.7" r="15.7"/><circle cx="560.0" cy="186.7" r="15.7"/><circle cx="563.0" cy="192.1" r="15.7"/><circle cx="563.0" cy="189.1" r="15.7"/><circle cx="563.0" cy="186.1" r="15.7"/><circle cx="566.0" cy="191.6" r="15.7"/><circle cx="566.0" cy="188.6" r="15.7"/><circle cx="566.0" cy="185.6" r="15.7"/><circle cx="569.0" cy="191.1" r="15.7"/><circle cx="569.0" cy="188.1" r="15.7"/><circle cx="569.0" cy="185.1" r="15.7"/><circle cx="572.0" cy="190.7" r="15.7"/><circle cx="572.0" cy="187.7" r="15.7"/><circle cx="572.0" cy="184.7" r="15.7"/><circle cx="575.0" cy="190.2" r="15.7"/><circle cx="575.0" cy="187.2" r="15.7"/><circle cx="575.0" cy="184.2" r="15.7"/><circle cx="578.0" cy="189.8" r="15.7"/><circle cx="578.0" cy="186.8" r="15.7"/><circle cx="578.0" cy="183.8" r="15.7"/><circle cx="581.0" cy="189.3" r="15.7"/><circle cx="581.0" cy="186.3" r="15.7"/><circle cx="581.0" cy="183.3" r="15.7"/><circle cx="584.0" cy="188.8" r="15.7"/><circle cx="584.0" cy="185.8" r="15.7"/><circle cx="584.0" cy="182.8" r="15.7"/><circle cx="587.0" cy="188.2" r="15.7"/><circle cx="587.0" cy="185.2" r="15.7"/><circle cx="587.0" cy="182.2" r="15.7"/><circle cx="590.0" cy="187.6" r="15.7"/><circle cx="590.0" cy="184.6" r="15.7"/><circle cx="590.0" cy="181.6" r="15.7"/><circle cx="593.0" cy="187.0" r="15.7"/><circle cx="593.0" cy="184.0" r="15.7"/><circle cx="593.0" cy="181.0" r="15.7"/><circle cx="596.0" cy="186.4" r="15.7"/><circle cx="596.0" cy="183.4" r="15.7"/><circle cx="596.0" cy="180.4" r="15.7"/><circle cx="599.0" cy="185.8" r="15.7"/><circle cx="599.0" cy="182.8" r="15.7"/><circle cx="599.0" cy="179.8" r="15.7"/><circle cx="602.0" cy="185.2" r="15.7"/><circle cx="602.0" cy="182.2" r="15.7"/><circle cx="602.0" cy="179.2" r="15.7"/><circle cx="605.0" cy="184.6" r="15.7"/><circle cx="605.0" cy="181.6" r="15.7"/><circle cx="605.0" cy="178.6" r="15.7"/><circle cx="608.0" cy="183.7" r="15.7"/><circle cx="608.0" cy="180.7" r="15.7"/><circle cx="608.0" cy="177.7" r="15.7"/><circle cx="611.0" cy="182.8" r="15.7"/><circle cx="611.0" cy="179.8" r="15.7"/><circle cx="611.0" cy="176.8" r="15.7"/><circle cx="614.0" cy="181.9" r="15.7"/><circle cx="614.0" cy="178.9" r="15.7"/><circle cx="614.0" cy="175.9" r="15.7"/><circle cx="617.0" cy="181.0" r="15.7"/><circle cx="617.0" cy="178.0" r="15.7"/><circle cx="617.0" cy="175.0" r="15.7"/><circle cx="620.0" cy="180.1" r="15.7"/><circle cx="620.0" cy="177.1" r="15.7"/><circle cx="620.0" cy="174.1" r="15.7"/><circle cx="623.0" cy="179.2" r="15.7"/><circle cx="623.0" cy="176.2" r="15.7"/><circle cx="623.0" cy="173.2" r="15.7"/><circle cx="626.0" cy="178.4" r="15.7"/><circle cx="626.0" cy="175.4" r="15.7"/><circle cx="626.0" cy="172.4" r="15.7"/><circle cx="629.0" cy="177.6" r="15.7"/><circle cx="629.0" cy="174.6" r="15.7"/><circle cx="629.0" cy="171.6" r="15.7"/><circle cx="632.0" cy="176.8" r="15.7"/><circle cx="632.0" cy="173.8" r="15.7"/><circle cx="632.0" cy="170.8" r="15.7"/><circle cx="635.0" cy="176.1" r="15.7"/><circle cx="635.0" cy="173.1" r="15.7"/><circle cx="635.0" cy="170.1" r="15.7"/><circle cx="638.0" cy="175.3" r="15.7"/><circle cx="638.0" cy="172.3" r="15.7"/><circle cx="638.0" cy="169.3" r="15.7"/><circle cx="641.0" cy="174.6" r="15.7"/><circle cx="641.0" cy="171.6" r="15.7"/><circle cx="641.0" cy="168.6" r="15.7"/><circle cx="644.0" cy="173.8" r="15.7"/><circle cx="644.0" cy="170.8" r="15.7"/><circle cx="644.0" cy="167.8" r="15.7"/><circle cx="647.0" cy="173.1" r="15.7"/><circle cx="647.0" cy="170.1" r="15.7"/><circle cx="647.0" cy="167.1" r="15.7"/><circle cx="650.0" cy="172.3" r="15.7"/><circle cx="650.0" cy="169.3" r="15.7"/><circle cx="650.0" cy="166.3" r="15.7"/><circle cx="653.0" cy="171.6" r="15.7"/><circle cx="653.0" cy="168.6" r="15.7"/><circle cx="653.0" cy="165.6" r="15.7"/><circle cx="656.0" cy="170.8" r="15.7"/><circle cx="656.0" cy="167.8" r="15.7"/><circle cx="656.0" cy="164.8" r="15.7"/><circle cx="659.0" cy="170.1" r="15.7"/><circle cx="659.0" cy="167.1" r="15.7"/><circle cx="659.0" cy="164.1" r="15.7"/><circle cx="662.0" cy="169.3" r="15.7"/><circle cx="662.0" cy="166.3" r="15.7"/><circle cx="662.0" cy="163.3" r="15.7"/><circle cx="665.0" cy="168.6" r="15.7"/><circle cx="665.0" cy="165.6" r="15.7"/><circle cx="665.0" cy="162.6" r="15.7"/><circle cx="668.0" cy="167.8" r="15.7"/><circle cx="668.0" cy="164.8" r="15.7"/><circle cx="668.0" cy="161.8" r="15.7"/><circle cx="671.0" cy="167.1" r="15.7"/><circle cx="671.0" cy="164.1" r="15.7"/><circle cx="671.0" cy="161.1" r="15.7"/><circle cx="674.0" cy="166.3" r="15.7"/><circle cx="674.0" cy="163.3" r="15.7"/><circle cx="674.0" cy="160.3" r="15.7"/><circle cx="677.0" cy="165.6" r="15.7"/><circle cx="677.0" cy="162.6" r="15.7"/><circle cx="677.0" cy="159.6" r="15.7"/><circle cx="680.0" cy="164.8" r="15.7"/><circle cx="680.0" cy="161.8" r="15.7"/><circle cx="680.0" cy="158.8" r="15.7"/><circle cx="683.0" cy="164.1" r="15.7"/><circle cx="683.0" cy="161.1" r="15.7"/><circle cx="683.0" cy="158.1" r="15.7"/><circle cx="686.0" cy="163.3" r="15.7"/><circle cx="686.0" cy="160.3" r="15.7"/><circle cx="686.0" cy="157.3" r="15.7"/><circle cx="689.0" cy="162.6" r="15.7"/><circle cx="689.0" cy="159.6" r="15.7"/><circle cx="689.0" cy="156.6" r="15.7"/><circle cx="692.0" cy="161.8" r="15.7"/><circle cx="692.0" cy="158.8" r="15.7"/><circle cx="692.0" cy="155.8" r="15.7"/><circle cx="695.0" cy="161.1" r="15.7"/><circle cx="695.0" cy="158.1" r="15.7"/><circle cx="695.0" cy="155.1" r="15.7"/><circle cx="698.0" cy="160.4" r="15.7"/><circle cx="698.0" cy="157.4" r="15.7"/><circle cx="698.0" cy="154.4" r="15.7"/><circle cx="700.0" cy="155.0" r="15.7"/><circle cx="704.0" cy="154.7" r="15.7"/><circle cx="708.0" cy="154.3" r="15.7"/><circle cx="712.0" cy="154.0" r="15.7"/><circle cx="716.0" cy="153.7" r="15.7"/><circle cx="720.0" cy="153.4" r="15.7"/><circle cx="724.0" cy="153.1" r="15.7"/><circle cx="728.0" cy="152.7" r="15.7"/><circle cx="732.0" cy="152.4" r="15.7"/><circle cx="736.0" cy="152.1" r="15.7"/><circle cx="740.0" cy="151.8" r="15.7"/><circle cx="744.0" cy="151.4" r="15.7"/><circle cx="748.0" cy="151.1" r="15.7"/><circle cx="752.0" cy="150.8" r="15.7"/><circle cx="756.0" cy="150.4" r="15.7"/><circle cx="760.0" cy="150.1" r="15.7"/><circle cx="764.0" cy="149.8" r="15.7"/><circle cx="768.0" cy="149.5" r="15.7"/><circle cx="772.0" cy="149.2" r="15.7"/><circle cx="776.0" cy="148.8" r="15.7"/><circle cx="780.0" cy="148.5" r="15.7"/><circle cx="784.0" cy="148.2" r="15.7"/><circle cx="788.0" cy="147.8" r="15.7"/><circle cx="792.0" cy="147.5" r="15.7"/><circle cx="796.0" cy="147.2" r="15.7"/><circle cx="800.0" cy="146.9" r="15.7"/><circle cx="804.0" cy="146.6" r="15.7"/><circle cx="808.0" cy="146.2" r="15.7"/><circle cx="812.0" cy="145.9" r="15.7"/><circle cx="816.0" cy="145.6" r="15.7"/><circle cx="820.0" cy="145.2" r="15.7"/><circle cx="824.0" cy="144.9" r="15.7"/><circle cx="828.0" cy="144.6" r="15.7"/><circle cx="832.0" cy="144.3" r="15.7"/><circle cx="836.0" cy="143.9" r="15.7"/><circle cx="840.0" cy="143.6" r="15.7"/><circle cx="844.0" cy="143.3" r="15.7"/><circle cx="848.0" cy="143.0" r="15.7"/><circle cx="852.0" cy="142.7" r="15.7"/><circle cx="856.0" cy="142.3" r="15.7"/><circle cx="719.4" cy="158.0" r="15.7"/><circle cx="779.7" cy="158.0" r="15.7"/><circle cx="795.0" cy="153.0" r="15.7"/><circle cx="813.0" cy="150.4" r="15.7"/><circle cx="832.5" cy="150.4" r="15.7"/><circle cx="858.4" cy="145.0" r="15.7"/><circle cx="883.7" cy="144.3" r="15.7"/><circle cx="932.5" cy="138.7" r="15.7"/><circle cx="1008.1" cy="136.6" r="15.7"/><circle cx="1018.4" cy="131.7" r="15.7"/><circle cx="1068.5" cy="131.1" r="15.7"/><circle cx="1154.0" cy="131.1" r="15.7"/><circle cx="1434.9" cy="127.9" r="15.7"/><circle cx="1632.3" cy="127.9" r="15.7"/></g>
<g clip-path="url(#ax)" fill="none" stroke-width="10" stroke-linejoin="round" stroke-linecap="butt" shape-rendering="crispEdges">
<path stroke="#ff0000" d="M207.3,1051.5 L207.3,1051.5 L207.4,1051.3 L207.4,1051.0 L207.5,1050.8 L207.5,1050.6 L207.6,1050.4 L207.6,1050.2 L207.7,1049.9 L207.7,1049.7 L207.8,1049.5 L207.9,1049.3 L207.9,1049.1 L208.0,1048.8 L208.0,1048.6 L208.1,1048.4 L208.1,1048.2 L208.2,1048.0 L208.2,1047.7 L208.3,1047.5 L208.3,1047.3 L208.4,1047.1 L208.5,1046.9 L208.5,1046.6 L208.6,1046.4 L208.6,1046.2 L208.7,1046.0 L208.7,1045.8 L208.8,1045.5 L208.8,1045.3 L208.9,1045.1 L208.9,1044.9 L209.0,1044.7 L209.1,1044.4 L209.1,1044.2 L209.2,1044.0 L209.2,1043.8 L209.3,1043.6 L209.3,1043.3 L209.4,1043.1 L209.4,1042.9 L209.5,1042.7 L209.6,1042.5 L209.6,1042.2 L209.7,1042.0 L209.7,1041.8 L209.8,1041.6 L209.8,1041.4 L209.9,1041.2 L209.9,1040.9 L210.0,1040.7 L210.0,1040.5 L210.1,1040.3 L210.2,1040.1 L210.2,1039.8 L210.3,1039.6 L210.3,1039.4 L210.4,1039.2 L210.4,1039.0 L210.5,1038.8 L210.5,1038.5 L210.6,1038.3 L210.6,1038.1 L210.7,1037.9 L210.8,1037.7 L210.8,1037.5 L210.9,1037.2 L210.9,1037.0 L211.0,1036.8 L211.0,1036.6 L211.1,1036.4 L211.1,1036.1 L211.2,1035.9 L211.2,1035.7 L211.3,1035.5 L211.4,1035.3 L211.4,1035.1 L211.5,1034.8 L211.5,1034.6 L211.6,1034.4 L211.6,1034.2 L211.7,1034.0 L211.7,1033.8 L211.8,1033.5 L211.9,1033.3 L211.9,1033.1 L212.0,1032.9 L212.0,1032.7 L212.1,1032.5 L212.1,1032.2 L212.2,1032.0 L212.2,1031.8 L212.3,1031.6 L212.3,1031.4 L212.4,1031.2 L212.5,1030.9 L212.5,1030.7 L212.6,1030.5 L212.6,1030.3 L212.7,1030.1 L212.7,1029.9 L212.8,1029.7 L212.8,1029.4 L212.9,1029.2 L212.9,1029.0 L213.0,1028.8 L213.1,1028.6 L213.1,1028.4 L213.2,1028.1 L213.2,1027.9 L213.3,1027.7 L213.3,1027.5 L213.4,1027.3 L213.4,1027.1 L213.5,1026.9 L213.5,1026.6 L213.6,1026.4 L213.7,1026.2 L213.7,1026.0 L213.8,1025.8 L213.8,1025.6 L213.9,1025.4 L213.9,1025.1 L214.0,1024.9 L214.0,1024.7 L214.1,1024.5 L214.2,1024.3 L214.2,1024.1 L214.3,1023.9 L214.3,1023.6 L214.4,1023.4 L214.4,1023.2 L214.5,1023.0 L214.5,1022.8 L214.6,1022.6 L214.6,1022.4 L214.7,1022.1 L214.8,1021.9 L214.8,1021.7 L214.9,1021.5 L214.9,1021.3 L215.0,1021.1 L215.0,1020.9 L215.1,1020.6 L215.1,1020.4 L215.2,1020.2 L215.2,1020.0 L215.3,1019.8 L215.4,1019.6 L215.4,1019.4 L215.5,1019.1 L215.5,1018.9 L215.6,1018.7 L215.6,1018.5 L215.7,1018.3 L215.7,1018.1 L215.8,1017.9 L215.8,1017.7 L215.9,1017.4 L216.0,1017.2 L216.0,1017.0 L216.1,1016.8 L216.1,1016.6 L216.2,1016.4 L216.2,1016.2 L216.3,1016.0 L216.7,1014.5 L217.0,1013.1 L217.4,1011.6 L217.8,1010.2 L218.2,1008.8 L218.5,1007.3 L218.9,1005.9 L219.3,1004.5 L219.6,1003.0 L220.0,1001.6 L220.4,1000.2 L220.8,998.8 L221.1,997.4 L221.5,996.0 L221.9,994.5 L222.2,993.1 L222.6,991.7 L223.0,990.3 L223.4,988.9 L223.7,987.5 L224.1,986.1 L224.5,984.7 L224.9,983.3 L225.2,981.9 L225.6,980.5 L226.0,979.2 L226.3,977.8 L226.7,976.4 L227.1,975.0 L227.5,973.6 L227.8,972.3 L228.2,970.9 L228.6,969.5 L229.0,968.1 L229.3,966.8 L229.7,965.4 L230.1,964.1 L230.4,962.7 L230.8,961.3 L231.2,960.0 L231.6,958.6 L231.9,957.3 L232.3,955.9 L232.7,954.6 L233.1,953.2 L233.4,951.9 L233.8,950.6 L234.2,949.2 L234.5,947.9 L234.9,946.5 L235.3,945.2 L235.7,943.9 L236.0,942.6 L236.4,941.2 L236.8,939.9 L237.2,938.6 L237.5,937.3 L237.9,936.0 L238.3,934.6 L238.6,933.3 L239.0,932.0 L239.4,930.7 L239.8,929.4 L240.1,928.1 L240.5,926.8 L240.9,925.5 L241.3,924.2 L241.6,922.9 L242.0,921.6 L242.4,920.3 L242.7,919.0 L243.1,917.7 L243.5,916.5 L243.9,915.2 L244.2,913.9 L244.6,912.6 L245.0,911.3 L245.4,910.1 L245.7,908.8 L246.1,907.5 L246.5,906.3 L246.8,905.0 L247.2,903.7 L247.6,902.5 L248.0,901.2 L248.3,899.9 L248.7,898.7 L249.1,897.4 L249.5,896.2 L249.8,894.9 L250.2,893.7 L250.6,892.4 L250.9,891.2 L251.3,890.0 L251.7,888.7 L252.1,887.5 L252.4,886.2 L252.8,885.0 L253.2,883.8 L253.6,882.5 L253.9,881.3 L254.3,880.1 L254.7,878.9 L255.0,877.6 L255.4,876.4 L255.8,875.2 L256.2,874.0 L256.5,872.8 L256.9,871.6 L257.3,870.4 L257.7,869.1 L258.0,867.9 L258.4,866.7 L258.8,865.5 L259.1,864.3 L259.5,863.1 L259.9,861.9 L260.3,860.7 L260.6,859.6 L261.0,858.4 L261.4,857.2 L261.8,856.0 L262.1,854.8 L262.5,853.6 L262.9,852.4 L263.2,851.3 L263.6,850.1 L264.0,848.9 L264.4,847.7 L264.7,846.6 L265.1,845.4 L265.5,844.2 L265.9,843.1 L266.2,841.9 L266.6,840.7 L267.0,839.6 L267.3,838.4 L267.7,837.3 L268.1,836.1 L268.5,835.0 L268.8,833.8 L269.2,832.7 L269.6,831.5 L270.0,830.4 L270.3,829.2 L270.7,828.1 L271.1,826.9 L271.4,825.8 L271.8,824.7 L272.2,823.5 L272.6,822.4 L272.9,821.3 L273.3,820.1 L273.7,819.0 L274.1,817.9 L274.4,816.8 L274.8,815.6 L275.2,814.5 L275.5,813.4 L275.9,812.3 L276.3,811.2 L276.7,810.1 L277.0,809.0 L277.4,807.9 L277.8,806.7 L278.1,805.6 L278.5,804.5 L278.9,803.4 L279.3,802.3 L279.6,801.2 L280.0,800.1 L280.4,799.0 L280.8,798.0 L281.1,796.9 L281.5,795.8 L281.9,794.7 L282.2,793.6 L282.6,792.5 L283.0,791.4 L283.4,790.4 L283.7,789.3 L284.1,788.2 L284.5,787.1 L284.9,786.1 L285.2,785.0 L285.6,783.9 L286.0,782.9 L286.3,781.8 L286.7,780.7 L287.1,779.7 L287.5,778.6 L287.8,777.5 L288.2,776.5 L288.6,775.4 L289.0,774.4 L289.3,773.3 L289.7,772.3 L290.1,771.2 L290.4,770.2 L292.6,764.1 L294.8,758.2 L296.9,752.3 L299.1,746.4 L301.2,740.6 L303.4,734.9 L305.5,729.2 L307.7,723.5 L309.8,717.9 L312.0,712.4 L314.2,706.9 L316.3,701.5 L318.5,696.1 L320.6,690.8 L322.8,685.5 L324.9,680.3 L327.1,675.1 L329.2,670.0 L331.4,664.9 L333.6,659.8 L335.7,654.8 L337.9,649.9 L340.0,645.0 L342.2,640.1 L344.3,635.3 L346.5,630.6 L348.6,625.9 L350.8,621.2 L353.0,616.6 L355.1,612.0 L357.3,607.4 L359.4,602.9 L361.6,598.5 L363.7,594.0 L365.9,589.7 L368.0,585.3 L370.2,581.0 L372.4,576.8 L374.5,572.6 L376.7,568.4 L378.8,564.3 L381.0,560.2 L383.1,556.1 L385.3,552.1 L387.4,548.1 L389.6,544.1 L391.8,540.2 L393.9,536.4 L396.1,532.5 L398.2,528.7 L400.4,525.0 L402.5,521.2 L404.7,517.5 L406.8,513.9 L409.0,510.2 L411.2,506.7 L413.3,503.1 L415.5,499.6 L417.6,496.1 L419.8,492.6 L421.9,489.2 L424.1,485.8 L426.2,482.4 L428.4,479.1 L430.6,475.8 L432.7,472.5 L434.9,469.3 L437.0,466.1 L439.2,462.9 L441.3,459.7 L443.5,456.6 L445.6,453.5 L447.8,450.5 L450.0,447.4 L452.1,444.4 L454.3,441.5 L456.4,438.5 L458.6,435.6 L460.7,432.7 L462.9,429.8 L465.0,427.0 L467.2,424.2 L469.4,421.4 L471.5,418.6 L473.7,415.9 L475.8,413.2 L478.0,410.5 L480.1,407.8 L482.3,405.2 L484.4,402.6 L486.6,400.0 L488.8,397.4 L490.9,394.9 L493.1,392.4 L495.2,389.9 L497.4,387.4 L499.5,385.0 L501.7,382.6 L503.8,380.2 L506.0,377.8 L508.2,375.4 L510.3,373.1 L512.5,370.8 L514.6,368.5 L516.8,366.2 L518.9,364.0 L521.1,361.8 L523.2,359.5 L525.4,357.4 L527.6,355.2 L529.7,353.1 L531.9,350.9 L534.0,348.8 L536.2,346.7 L538.3,344.7 L540.5,342.6 L542.6,340.6 L544.8,338.6 L547.0,336.6 L549.1,334.6 L551.3,332.7 L553.4,330.8 L555.6,328.9 L557.7,327.0 L559.9,325.1 L562.0,323.2 L564.2,321.4 L566.4,319.5 L568.5,317.7 L570.7,315.9 L572.8,314.2 L575.0,312.4 L577.1,310.7 L579.3,308.9 L581.4,307.2 L583.6,305.5 L585.8,303.9 L587.9,302.2 L590.1,300.5 L592.2,298.9 L594.4,297.3 L596.5,295.7 L598.7,294.1 L600.8,292.5 L603.0,291.0 L605.2,289.4 L607.3,287.9 L609.5,286.4 L611.6,284.9 L613.8,283.4 L615.9,281.9 L618.1,280.5 L620.2,279.0 L622.4,277.6 L624.6,276.2 L626.7,274.8 L628.9,273.4 L631.0,272.0 L633.2,270.6 L635.3,269.3 L637.5,268.0 L639.6,266.6 L641.8,265.3 L644.0,264.0 L646.1,262.7 L648.3,261.4 L650.4,260.2 L652.6,258.9 L654.7,257.7 L656.9,256.4 L659.0,255.2 L661.2,254.0 L663.4,252.8 L665.5,251.6 L667.7,250.5 L669.8,249.3 L672.0,248.1 L674.1,247.0 L676.3,245.9 L678.4,244.7 L680.6,243.6 L682.8,242.5 L684.9,241.4 L687.1,240.4 L689.2,239.3 L691.4,238.2 L693.5,237.2 L695.7,236.2 L697.8,235.1 L700.0,234.1 L702.2,233.1 L704.3,232.1 L706.5,231.1 L708.6,230.1 L710.8,229.1 L712.9,228.2 L715.1,227.2 L717.2,226.3 L719.4,225.3 L779.7,202.4 L795.0,197.5 L813.0,192.1 L832.5,186.7 L858.4,180.2 L883.7,174.5 L932.5,165.2 L1008.1,154.2 L1018.4,153.0 L1068.5,147.7 L1154.0,140.9 L1434.9,130.4 L1632.3,127.9"/>
<path stroke="#ff00ff" d="M205.4,1044.1 L205.5,1032.9 L205.6,1023.7 L205.6,1015.9 L205.7,1009.0 L205.7,1002.8 L205.8,997.2 L205.8,991.9 L205.9,986.9 L205.9,982.2 L206.0,977.8 L206.0,973.6 L206.1,969.5 L206.2,965.6 L206.2,961.9 L206.3,958.3 L206.3,954.8 L206.4,951.4 L206.4,948.1 L206.5,944.9 L206.5,941.8 L206.6,938.8 L206.6,935.9 L206.7,933.0 L206.8,930.2 L206.8,927.4 L206.9,924.7 L206.9,922.1 L207.0,919.5 L207.0,917.0 L207.1,914.5 L207.1,912.0 L207.2,909.6 L207.3,907.3 L207.3,904.9 L207.4,902.7 L207.4,900.4 L207.5,898.2 L207.5,896.0 L207.6,893.9 L207.6,891.7 L207.7,889.7 L207.7,887.6 L207.8,885.6 L207.9,883.6 L207.9,881.6 L208.0,879.6 L208.0,877.7 L208.1,875.8 L208.1,873.9 L208.2,872.1 L208.2,870.2 L208.3,868.4 L208.3,866.6 L208.4,864.8 L208.5,863.1 L208.5,861.4 L208.6,859.6 L208.6,857.9 L208.7,856.2 L208.7,854.6 L208.8,852.9 L208.8,851.3 L208.9,849.7 L208.9,848.1 L209.0,846.5 L209.1,844.9 L209.1,843.3 L209.2,841.8 L209.2,840.3 L209.3,838.8 L209.3,837.2 L209.4,835.8 L209.4,834.3 L209.5,832.8 L209.6,831.4 L209.6,829.9 L209.7,828.5 L209.7,827.1 L209.8,825.7 L209.8,824.3 L209.9,822.9 L209.9,821.5 L210.0,820.1 L210.0,818.8 L210.1,817.4 L210.2,816.1 L210.2,814.8 L210.3,813.4 L210.3,812.1 L210.4,810.8 L210.4,809.6 L210.5,808.3 L210.5,807.0 L210.6,805.7 L210.6,804.5 L210.7,803.2 L210.8,802.0 L210.8,800.8 L210.9,799.6 L210.9,798.3 L211.0,797.1 L211.0,795.9 L211.1,794.8 L211.1,793.6 L211.2,792.4 L211.2,791.2 L211.3,790.1 L211.4,788.9 L211.4,787.8 L211.5,786.6 L211.5,785.5 L211.6,784.4 L211.6,783.3 L211.7,782.1 L211.7,781.0 L211.8,779.9 L211.9,778.8 L211.9,777.8 L212.0,776.7 L212.0,775.6 L212.1,774.5 L212.1,773.5 L212.2,772.4 L212.2,771.3 L212.3,770.3 L212.3,769.3 L212.4,768.2 L212.5,767.2 L212.5,766.2 L212.6,765.1 L212.6,764.1 L212.7,763.1 L212.7,762.1 L212.8,761.1 L212.8,760.1 L212.9,759.1 L212.9,758.2 L213.0,757.2 L213.1,756.2 L213.1,755.2 L213.2,754.3 L213.2,753.3 L213.3,752.4 L213.3,751.4 L213.4,750.5 L213.4,749.5 L213.5,748.6 L213.5,747.6 L213.6,746.7 L213.7,745.8 L213.7,744.9 L213.8,743.9 L213.8,743.0 L213.9,742.1 L213.9,741.2 L214.0,740.3 L214.0,739.4 L214.1,738.5 L214.2,737.6 L214.2,736.8 L214.3,735.9 L214.3,735.0 L214.4,734.1 L214.4,733.3 L214.5,732.4 L214.5,731.5 L214.6,730.7 L214.6,729.8 L214.7,729.0 L214.8,728.1 L214.8,727.3 L214.9,726.4 L214.9,725.6 L215.0,724.8 L215.0,723.9 L215.1,723.1 L215.1,722.3 L215.2,721.5 L215.2,720.7 L215.3,719.8 L215.4,719.0 L215.4,718.2 L215.5,717.4 L215.5,716.6 L215.6,715.8 L215.6,715.0 L215.7,714.2 L215.7,713.4 L215.8,712.7 L215.8,711.9 L215.9,711.1 L216.0,710.3 L216.0,709.5 L216.1,708.8 L216.1,708.0 L216.2,707.2 L216.2,706.5 L216.3,705.7 L216.7,700.6 L217.0,695.6 L217.4,690.8 L217.8,686.0 L218.2,681.4 L218.5,676.9 L218.9,672.4 L219.3,668.1 L219.6,663.8 L220.0,659.6 L220.4,655.5 L220.8,651.5 L221.1,647.6 L221.5,643.7 L221.9,639.9 L222.2,636.2 L222.6,632.5 L223.0,628.9 L223.4,625.3 L223.7,621.9 L224.1,618.4 L224.5,615.0 L224.9,611.7 L225.2,608.5 L225.6,605.2 L226.0,602.1 L226.3,599.0 L226.7,595.9 L227.1,592.9 L227.5,589.9 L227.8,586.9 L228.2,584.0 L228.6,581.2 L229.0,578.3 L229.3,575.5 L229.7,572.8 L230.1,570.1 L230.4,567.4 L230.8,564.8 L231.2,562.2 L231.6,559.6 L231.9,557.0 L232.3,554.5 L232.7,552.1 L233.1,549.6 L233.4,547.2 L233.8,544.8 L234.2,542.4 L234.5,540.1 L234.9,537.8 L235.3,535.5 L235.7,533.2 L236.0,531.0 L236.4,528.8 L236.8,526.6 L237.2,524.5 L237.5,522.3 L237.9,520.2 L238.3,518.1 L238.6,516.0 L239.0,514.0 L239.4,512.0 L239.8,510.0 L240.1,508.0 L240.5,506.0 L240.9,504.1 L241.3,502.2 L241.6,500.3 L242.0,498.4 L242.4,496.5 L242.7,494.6 L243.1,492.8 L243.5,491.0 L243.9,489.2 L244.2,487.4 L244.6,485.7 L245.0,483.9 L245.4,482.2 L245.7,480.5 L246.1,478.8 L246.5,477.1 L246.8,475.4 L247.2,473.8 L247.6,472.1 L248.0,470.5 L248.3,468.9 L248.7,467.3 L249.1,465.7 L249.5,464.1 L249.8,462.6 L250.2,461.0 L250.6,459.5 L250.9,458.0 L251.3,456.5 L251.7,455.0 L252.1,453.5 L252.4,452.0 L252.8,450.6 L253.2,449.1 L253.6,447.7 L253.9,446.3 L254.3,444.9 L254.7,443.5 L255.0,442.1 L255.4,440.7 L255.8,439.4 L256.2,438.0 L256.5,436.7 L256.9,435.3 L257.3,434.0 L257.7,432.7 L258.0,431.4 L258.4,430.1 L258.8,428.8 L259.1,427.5 L259.5,426.3 L259.9,425.0 L260.3,423.8 L260.6,422.5 L261.0,421.3 L261.4,420.1 L261.8,418.9 L262.1,417.7 L262.5,416.5 L262.9,415.3 L263.2,414.1 L263.6,412.9 L264.0,411.8 L264.4,410.6 L264.7,409.5 L265.1,408.3 L265.5,407.2 L265.9,406.1 L266.2,405.0 L266.6,403.9 L267.0,402.8 L267.3,401.7 L267.7,400.6 L268.1,399.5 L268.5,398.5 L268.8,397.4 L269.2,396.4 L269.6,395.3 L270.0,394.3 L270.3,393.2 L270.7,392.2 L271.1,391.2 L271.4,390.2 L271.8,389.2 L272.2,388.2 L272.6,387.2 L272.9,386.2 L273.3,385.2 L273.7,384.2 L274.1,383.3 L274.4,382.3 L274.8,381.3 L275.2,380.4 L275.5,379.4 L275.9,378.5 L276.3,377.6 L276.7,376.6 L277.0,375.7 L277.4,374.8 L277.8,373.9 L278.1,373.0 L278.5,372.1 L278.9,371.2 L279.3,370.3 L279.6,369.4 L280.0,368.5 L280.4,367.7 L280.8,366.8 L281.1,365.9 L281.5,365.1 L281.9,364.2 L282.2,363.4 L282.6,362.5 L283.0,361.7 L283.4,360.9 L283.7,360.0 L284.1,359.2 L284.5,358.4 L284.9,357.6 L285.2,356.8 L285.6,356.0 L286.0,355.2 L286.3,354.4 L286.7,353.6 L287.1,352.8 L287.5,352.0 L287.8,351.2 L288.2,350.5 L288.6,349.7 L289.0,348.9 L289.3,348.2 L289.7,347.4 L290.1,346.7 L290.4,345.9 L292.6,341.7 L294.8,337.5 L296.9,333.5 L299.1,329.7 L301.2,325.9 L303.4,322.2 L305.5,318.7 L307.7,315.2 L309.8,311.9 L312.0,308.6 L314.2,305.4 L316.3,302.3 L318.5,299.3 L320.6,296.4 L322.8,293.5 L324.9,290.7 L327.1,288.0 L329.2,285.3 L331.4,282.7 L333.6,280.2 L335.7,277.7 L337.9,275.3 L340.0,273.0 L342.2,270.7 L344.3,268.4 L346.5,266.2 L348.6,264.1 L350.8,262.0 L353.0,259.9 L355.1,257.9 L357.3,255.9 L359.4,254.0 L361.6,252.1 L363.7,250.3 L365.9,248.5 L368.0,246.7 L370.2,245.0 L372.4,243.3 L374.5,241.6 L376.7,240.0 L378.8,238.4 L381.0,236.8 L383.1,235.3 L385.3,233.8 L387.4,232.3 L389.6,230.9 L391.8,229.5 L393.9,228.1 L396.1,226.7 L398.2,225.4 L400.4,224.0 L402.5,222.8 L404.7,221.5 L406.8,220.2 L409.0,219.0 L411.2,217.8 L413.3,216.6 L415.5,215.5 L417.6,214.3 L419.8,213.2 L421.9,212.1 L424.1,211.0 L426.2,210.0 L428.4,208.9 L430.6,207.9 L432.7,206.9 L434.9,205.9 L437.0,204.9 L439.2,203.9 L441.3,203.0 L443.5,202.1 L445.6,201.2 L447.8,200.3 L450.0,199.4 L452.1,198.5 L454.3,197.6 L456.4,196.8 L458.6,196.0 L460.7,195.2 L462.9,194.4 L465.0,193.6 L467.2,192.8 L469.4,192.0 L471.5,191.3 L473.7,190.5 L475.8,189.8 L478.0,189.1 L480.1,188.3 L482.3,187.6 L484.4,187.0 L486.6,186.3 L488.8,185.6 L490.9,184.9 L493.1,184.3 L495.2,183.6 L497.4,183.0 L499.5,182.4 L501.7,181.8 L503.8,181.2 L506.0,180.6 L508.2,180.0 L510.3,179.4 L512.5,178.8 L514.6,178.3 L516.8,177.7 L518.9,177.2 L521.1,176.6 L523.2,176.1 L525.4,175.6 L527.6,175.0 L529.7,174.5 L531.9,174.0 L534.0,173.5 L536.2,173.0 L538.3,172.5 L540.5,172.1 L542.6,171.6 L544.8,171.1 L547.0,170.7 L549.1,170.2 L551.3,169.8 L553.4,169.3 L555.6,168.9 L557.7,168.5 L559.9,168.0 L562.0,167.6 L564.2,167.2 L566.4,166.8 L568.5,166.4 L570.7,166.0 L572.8,165.6 L575.0,165.2 L577.1,164.8 L579.3,164.4 L581.4,164.1 L583.6,163.7 L585.8,163.3 L587.9,163.0 L590.1,162.6 L592.2,162.3 L594.4,161.9 L596.5,161.6 L598.7,161.2 L600.8,160.9 L603.0,160.6 L605.2,160.2 L607.3,159.9 L609.5,159.6 L611.6,159.3 L613.8,159.0 L615.9,158.7 L618.1,158.4 L620.2,158.1 L622.4,157.8 L624.6,157.5 L626.7,157.2 L628.9,156.9 L631.0,156.6 L633.2,156.3 L635.3,156.0 L637.5,155.8 L639.6,155.5 L641.8,155.2 L644.0,155.0 L646.1,154.7 L648.3,154.4 L650.4,154.2 L652.6,153.9 L654.7,153.7 L656.9,153.4 L659.0,153.2 L661.2,152.9 L663.4,152.7 L665.5,152.5 L667.7,152.2 L669.8,152.0 L672.0,151.8 L674.1,151.5 L676.3,151.3 L678.4,151.1 L680.6,150.9 L682.8,150.7 L684.9,150.5 L687.1,150.2 L689.2,150.0 L691.4,149.8 L693.5,149.6 L695.7,149.4 L697.8,149.2 L700.0,149.0 L702.2,148.8 L704.3,148.6 L706.5,148.4 L708.6,148.2 L710.8,148.0 L712.9,147.9 L715.1,147.7 L717.2,147.5 L719.4,147.3 L779.7,142.9 L795.0,142.0 L813.0,141.0 L832.5,140.0 L858.4,138.7 L883.7,137.7 L932.5,135.9 L1008.1,133.7 L1018.4,133.5 L1068.5,132.4 L1154.0,131.0 L1434.9,128.3 L1632.3,127.4"/>
<path stroke="#0000ff" d="M203.3,317.2 L203.3,317.2 L203.4,317.1 L203.4,317.1 L203.5,317.1 L203.5,317.1 L203.6,317.0 L203.6,317.0 L203.7,317.0 L203.7,317.0 L203.8,316.9 L203.9,316.9 L203.9,316.9 L204.0,316.9 L204.0,316.8 L204.1,316.8 L204.1,316.8 L204.2,316.7 L204.2,316.7 L204.3,316.7 L204.3,316.7 L204.4,316.6 L204.5,316.6 L204.5,316.6 L204.6,316.6 L204.6,316.5 L204.7,316.5 L204.7,316.5 L204.8,316.5 L204.8,316.4 L204.9,316.4 L205.0,316.4 L205.0,316.3 L205.1,316.3 L205.1,316.3 L205.2,316.3 L205.2,316.2 L205.3,316.2 L205.3,316.2 L205.4,316.2 L205.4,316.1 L205.5,316.1 L205.6,316.1 L205.6,316.1 L205.7,316.0 L205.7,316.0 L205.8,316.0 L205.8,315.9 L205.9,315.9 L205.9,315.9 L206.0,315.9 L206.0,315.8 L206.1,315.8 L206.2,315.8 L206.2,315.8 L206.3,315.7 L206.3,315.7 L206.4,315.7 L206.4,315.7 L206.5,315.6 L206.5,315.6 L206.6,315.6 L206.6,315.5 L206.7,315.5 L206.8,315.5 L206.8,315.5 L206.9,315.4 L206.9,315.4 L207.0,315.4 L207.0,315.4 L207.1,315.3 L207.1,315.3 L207.2,315.3 L207.3,315.3 L207.3,315.2 L207.4,315.2 L207.4,315.2 L207.5,315.2 L207.5,315.1 L207.6,315.1 L207.6,315.1 L207.7,315.0 L207.7,315.0 L207.8,315.0 L207.9,315.0 L207.9,314.9 L208.0,314.9 L208.0,314.9 L208.1,314.9 L208.1,314.8 L208.2,314.8 L208.2,314.8 L208.3,314.8 L208.3,314.7 L208.4,314.7 L208.5,314.7 L208.5,314.6 L208.6,314.6 L208.6,314.6 L208.7,314.6 L208.7,314.5 L208.8,314.5 L208.8,314.5 L208.9,314.5 L208.9,314.4 L209.0,314.4 L209.1,314.4 L209.1,314.4 L209.2,314.3 L209.2,314.3 L209.3,314.3 L209.3,314.2 L209.4,314.2 L209.4,314.2 L209.5,314.2 L209.6,314.1 L209.6,314.1 L209.7,314.1 L209.7,314.1 L209.8,314.0 L209.8,314.0 L209.9,314.0 L209.9,314.0 L210.0,313.9 L210.0,313.9 L210.1,313.9 L210.2,313.9 L210.2,313.8 L210.3,313.8 L210.3,313.8 L210.4,313.7 L210.4,313.7 L210.5,313.7 L210.5,313.7 L210.6,313.6 L210.6,313.6 L210.7,313.6 L210.8,313.6 L210.8,313.5 L210.9,313.5 L210.9,313.5 L211.0,313.5 L211.0,313.4 L211.1,313.4 L211.1,313.4 L211.2,313.3 L211.2,313.3 L211.3,313.3 L211.4,313.3 L211.4,313.2 L211.5,313.2 L211.5,313.2 L211.6,313.2 L211.6,313.1 L211.7,313.1 L211.7,313.1 L211.8,313.1 L211.9,313.0 L211.9,313.0 L212.0,313.0 L212.0,313.0 L212.1,312.9 L212.1,312.9 L212.2,312.9 L212.2,312.8 L212.3,312.8 L212.3,312.8 L212.4,312.8 L212.5,312.7 L212.5,312.7 L212.6,312.7 L212.6,312.7 L212.7,312.6 L212.7,312.6 L212.8,312.6 L212.8,312.6 L212.9,312.5 L212.9,312.5 L213.0,312.5 L213.1,312.5 L213.1,312.4 L213.2,312.4 L213.2,312.4 L213.3,312.3 L213.3,312.3 L213.4,312.3 L213.4,312.3 L213.5,312.2 L213.5,312.2 L213.6,312.2 L213.7,312.2 L213.7,312.1 L213.8,312.1 L213.8,312.1 L213.9,312.1 L213.9,312.0 L214.0,312.0 L214.0,312.0 L214.1,312.0 L214.2,311.9 L214.2,311.9 L214.3,311.9 L214.3,311.8 L214.4,311.8 L214.4,311.8 L214.5,311.8 L214.5,311.7 L214.6,311.7 L214.6,311.7 L214.7,311.7 L214.8,311.6 L214.8,311.6 L214.9,311.6 L214.9,311.6 L215.0,311.5 L215.0,311.5 L215.1,311.5 L215.1,311.5 L215.2,311.4 L215.2,311.4 L215.3,311.4 L215.4,311.3 L215.4,311.3 L215.5,311.3 L215.5,311.3 L215.6,311.2 L215.6,311.2 L215.7,311.2 L215.7,311.2 L215.8,311.1 L215.8,311.1 L215.9,311.1 L216.0,311.1 L216.0,311.0 L216.1,311.0 L216.1,311.0 L216.2,311.0 L216.2,310.9 L216.3,310.9 L216.7,310.7 L217.0,310.5 L217.4,310.4 L217.8,310.2 L218.2,310.0 L218.5,309.8 L218.9,309.7 L219.3,309.5 L219.6,309.3 L220.0,309.1 L220.4,308.9 L220.8,308.8 L221.1,308.6 L221.5,308.4 L221.9,308.2 L222.2,308.1 L222.6,307.9 L223.0,307.7 L223.4,307.5 L223.7,307.4 L224.1,307.2 L224.5,307.0 L224.9,306.8 L225.2,306.7 L225.6,306.5 L226.0,306.3 L226.3,306.1 L226.7,306.0 L227.1,305.8 L227.5,305.6 L227.8,305.4 L228.2,305.3 L228.6,305.1 L229.0,304.9 L229.3,304.7 L229.7,304.6 L230.1,304.4 L230.4,304.2 L230.8,304.0 L231.2,303.9 L231.6,303.7 L231.9,303.5 L232.3,303.3 L232.7,303.2 L233.1,303.0 L233.4,302.8 L233.8,302.6 L234.2,302.5 L234.5,302.3 L234.9,302.1 L235.3,301.9 L235.7,301.8 L236.0,301.6 L236.4,301.4 L236.8,301.3 L237.2,301.1 L237.5,300.9 L237.9,300.7 L238.3,300.6 L238.6,300.4 L239.0,300.2 L239.4,300.0 L239.8,299.9 L240.1,299.7 L240.5,299.5 L240.9,299.4 L241.3,299.2 L241.6,299.0 L242.0,298.8 L242.4,298.7 L242.7,298.5 L243.1,298.3 L243.5,298.2 L243.9,298.0 L244.2,297.8 L244.6,297.7 L245.0,297.5 L245.4,297.3 L245.7,297.1 L246.1,297.0 L246.5,296.8 L246.8,296.6 L247.2,296.5 L247.6,296.3 L248.0,296.1 L248.3,296.0 L248.7,295.8 L249.1,295.6 L249.5,295.4 L249.8,295.3 L250.2,295.1 L250.6,294.9 L250.9,294.8 L251.3,294.6 L251.7,294.4 L252.1,294.3 L252.4,294.1 L252.8,293.9 L253.2,293.8 L253.6,293.6 L253.9,293.4 L254.3,293.3 L254.7,293.1 L255.0,292.9 L255.4,292.8 L255.8,292.6 L256.2,292.4 L256.5,292.3 L256.9,292.1 L257.3,291.9 L257.7,291.8 L258.0,291.6 L258.4,291.4 L258.8,291.3 L259.1,291.1 L259.5,290.9 L259.9,290.8 L260.3,290.6 L260.6,290.4 L261.0,290.3 L261.4,290.1 L261.8,289.9 L262.1,289.8 L262.5,289.6 L262.9,289.4 L263.2,289.3 L263.6,289.1 L264.0,288.9 L264.4,288.8 L264.7,288.6 L265.1,288.4 L265.5,288.3 L265.9,288.1 L266.2,288.0 L266.6,287.8 L267.0,287.6 L267.3,287.5 L267.7,287.3 L268.1,287.1 L268.5,287.0 L268.8,286.8 L269.2,286.6 L269.6,286.5 L270.0,286.3 L270.3,286.2 L270.7,286.0 L271.1,285.8 L271.4,285.7 L271.8,285.5 L272.2,285.3 L272.6,285.2 L272.9,285.0 L273.3,284.9 L273.7,284.7 L274.1,284.5 L274.4,284.4 L274.8,284.2 L275.2,284.0 L275.5,283.9 L275.9,283.7 L276.3,283.6 L276.7,283.4 L277.0,283.2 L277.4,283.1 L277.8,282.9 L278.1,282.8 L278.5,282.6 L278.9,282.4 L279.3,282.3 L279.6,282.1 L280.0,282.0 L280.4,281.8 L280.8,281.6 L281.1,281.5 L281.5,281.3 L281.9,281.2 L282.2,281.0 L282.6,280.8 L283.0,280.7 L283.4,280.5 L283.7,280.4 L284.1,280.2 L284.5,280.0 L284.9,279.9 L285.2,279.7 L285.6,279.6 L286.0,279.4 L286.3,279.2 L286.7,279.1 L287.1,278.9 L287.5,278.8 L287.8,278.6 L288.2,278.5 L288.6,278.3 L289.0,278.1 L289.3,278.0 L289.7,277.8 L290.1,277.7 L290.4,277.5 L292.6,276.6 L294.8,275.7 L296.9,274.8 L299.1,273.9 L301.2,273.0 L303.4,272.1 L305.5,271.2 L307.7,270.3 L309.8,269.5 L312.0,268.6 L314.2,267.7 L316.3,266.9 L318.5,266.0 L320.6,265.1 L322.8,264.3 L324.9,263.4 L327.1,262.6 L329.2,261.7 L331.4,260.9 L333.6,260.0 L335.7,259.2 L337.9,258.4 L340.0,257.5 L342.2,256.7 L344.3,255.9 L346.5,255.1 L348.6,254.3 L350.8,253.4 L353.0,252.6 L355.1,251.8 L357.3,251.0 L359.4,250.2 L361.6,249.4 L363.7,248.6 L365.9,247.9 L368.0,247.1 L370.2,246.3 L372.4,245.5 L374.5,244.7 L376.7,244.0 L378.8,243.2 L381.0,242.5 L383.1,241.7 L385.3,240.9 L387.4,240.2 L389.6,239.4 L391.8,238.7 L393.9,237.9 L396.1,237.2 L398.2,236.5 L400.4,235.7 L402.5,235.0 L404.7,234.3 L406.8,233.6 L409.0,232.9 L411.2,232.1 L413.3,231.4 L415.5,230.7 L417.6,230.0 L419.8,229.3 L421.9,228.6 L424.1,227.9 L426.2,227.2 L428.4,226.5 L430.6,225.9 L432.7,225.2 L434.9,224.5 L437.0,223.8 L439.2,223.2 L441.3,222.5 L443.5,221.8 L445.6,221.2 L447.8,220.5 L450.0,219.9 L452.1,219.2 L454.3,218.6 L456.4,217.9 L458.6,217.3 L460.7,216.6 L462.9,216.0 L465.0,215.4 L467.2,214.8 L469.4,214.1 L471.5,213.5 L473.7,212.9 L475.8,212.3 L478.0,211.7 L480.1,211.1 L482.3,210.5 L484.4,209.9 L486.6,209.3 L488.8,208.7 L490.9,208.1 L493.1,207.5 L495.2,206.9 L497.4,206.3 L499.5,205.7 L501.7,205.2 L503.8,204.6 L506.0,204.0 L508.2,203.5 L510.3,202.9 L512.5,202.3 L514.6,201.8 L516.8,201.2 L518.9,200.7 L521.1,200.1 L523.2,199.6 L525.4,199.0 L527.6,198.5 L529.7,198.0 L531.9,197.4 L534.0,196.9 L536.2,196.4 L538.3,195.8 L540.5,195.3 L542.6,194.8 L544.8,194.3 L547.0,193.8 L549.1,193.3 L551.3,192.8 L553.4,192.3 L555.6,191.8 L557.7,191.3 L559.9,190.8 L562.0,190.3 L564.2,189.8 L566.4,189.3 L568.5,188.8 L570.7,188.3 L572.8,187.9 L575.0,187.4 L577.1,186.9 L579.3,186.4 L581.4,186.0 L583.6,185.5 L585.8,185.1 L587.9,184.6 L590.1,184.1 L592.2,183.7 L594.4,183.2 L596.5,182.8 L598.7,182.4 L600.8,181.9 L603.0,181.5 L605.2,181.0 L607.3,180.6 L609.5,180.2 L611.6,179.7 L613.8,179.3 L615.9,178.9 L618.1,178.5 L620.2,178.1 L622.4,177.6 L624.6,177.2 L626.7,176.8 L628.9,176.4 L631.0,176.0 L633.2,175.6 L635.3,175.2 L637.5,174.8 L639.6,174.4 L641.8,174.0 L644.0,173.6 L646.1,173.3 L648.3,172.9 L650.4,172.5 L652.6,172.1 L654.7,171.7 L656.9,171.4 L659.0,171.0 L661.2,170.6 L663.4,170.3 L665.5,169.9 L667.7,169.5 L669.8,169.2 L672.0,168.8 L674.1,168.5 L676.3,168.1 L678.4,167.8 L680.6,167.4 L682.8,167.1 L684.9,166.7 L687.1,166.4 L689.2,166.0 L691.4,165.7 L693.5,165.4 L695.7,165.0 L697.8,164.7 L700.0,164.4 L702.2,164.1 L704.3,163.7 L706.5,163.4 L708.6,163.1 L710.8,162.8 L712.9,162.5 L715.1,162.2 L717.2,161.9 L719.4,161.5 L779.7,153.8 L795.0,152.1 L813.0,150.2 L832.5,148.2 L858.4,145.8 L883.7,143.7 L932.5,140.2 L950.0,139.6 L990.0,138.9 L1052.0,135.9 L1100.0,135.1 L1200.0,131.5 L1400.0,129.5 L1632.0,128.2"/>
<path stroke="#008000" d="M205.0,1069.0 L205.0,1068.9 L205.1,1068.5 L205.1,1068.1 L205.2,1067.7 L205.2,1067.3 L205.3,1066.8 L205.3,1066.3 L205.4,1065.8 L205.4,1065.3 L205.5,1064.8 L205.6,1064.2 L205.6,1063.7 L205.7,1063.1 L205.7,1062.5 L205.8,1061.9 L205.8,1061.3 L205.9,1060.7 L205.9,1060.0 L206.0,1059.4 L206.0,1058.7 L206.1,1058.0 L206.2,1057.3 L206.2,1056.6 L206.3,1055.9 L206.3,1055.2 L206.4,1054.5 L206.4,1053.7 L206.5,1053.0 L206.5,1052.2 L206.6,1051.5 L206.6,1050.7 L206.7,1049.9 L206.8,1049.1 L206.8,1048.3 L206.9,1047.5 L206.9,1046.7 L207.0,1045.9 L207.0,1045.0 L207.1,1044.2 L207.1,1043.3 L207.2,1042.5 L207.3,1041.6 L207.3,1040.8 L207.4,1039.9 L207.4,1039.0 L207.5,1038.1 L207.5,1037.2 L207.6,1036.4 L207.6,1035.5 L207.7,1034.6 L207.7,1033.6 L207.8,1032.7 L207.9,1031.8 L207.9,1030.9 L208.0,1030.0 L208.0,1029.0 L208.1,1028.1 L208.1,1027.2 L208.2,1026.2 L208.2,1025.3 L208.3,1024.3 L208.3,1023.4 L208.4,1022.4 L208.5,1021.5 L208.5,1020.5 L208.6,1019.6 L208.6,1018.6 L208.7,1017.6 L208.7,1016.7 L208.8,1015.7 L208.8,1014.7 L208.9,1013.7 L208.9,1012.7 L209.0,1011.8 L209.1,1010.8 L209.1,1009.8 L209.2,1008.8 L209.2,1007.8 L209.3,1006.8 L209.3,1005.8 L209.4,1004.8 L209.4,1003.8 L209.5,1002.8 L209.6,1001.8 L209.6,1000.8 L209.7,999.8 L209.7,998.8 L209.8,997.8 L209.8,996.8 L209.9,995.8 L209.9,994.8 L210.0,993.8 L210.0,992.8 L210.1,991.8 L210.2,990.8 L210.2,989.8 L210.3,988.8 L210.3,987.8 L210.4,986.7 L210.4,985.7 L210.5,984.7 L210.5,983.7 L210.6,982.7 L210.6,981.7 L210.7,980.7 L210.8,979.7 L210.8,978.6 L210.9,977.6 L210.9,976.6 L211.0,975.6 L211.0,974.6 L211.1,973.6 L211.1,972.6 L211.2,971.5 L211.2,970.5 L211.3,969.5 L211.4,968.5 L211.4,967.5 L211.5,966.5 L211.5,965.5 L211.6,964.5 L211.6,963.4 L211.7,962.4 L211.7,961.4 L211.8,960.4 L211.9,959.4 L211.9,958.4 L212.0,957.4 L212.0,956.4 L212.1,955.4 L212.1,954.4 L212.2,953.4 L212.2,952.4 L212.3,951.4 L212.3,950.3 L212.4,949.3 L212.5,948.3 L212.5,947.3 L212.6,946.3 L212.6,945.3 L212.7,944.3 L212.7,943.3 L212.8,942.3 L212.8,941.3 L212.9,940.4 L212.9,939.4 L213.0,938.4 L213.1,937.4 L213.1,936.4 L213.2,935.4 L213.2,934.4 L213.3,933.4 L213.3,932.4 L213.4,931.4 L213.4,930.4 L213.5,929.5 L213.5,928.5 L213.6,927.5 L213.7,926.5 L213.7,925.5 L213.8,924.6 L213.8,923.6 L213.9,922.6 L213.9,921.6 L214.0,920.6 L214.0,919.7 L214.1,918.7 L214.2,917.7 L214.2,916.8 L214.3,915.8 L214.3,914.8 L214.4,913.9 L214.4,912.9 L214.5,911.9 L214.5,911.0 L214.6,910.0 L214.6,909.0 L214.7,908.1 L214.8,907.1 L214.8,906.2 L214.9,905.2 L214.9,904.3 L215.0,903.3 L215.0,902.3 L215.1,901.4 L215.1,900.4 L215.2,899.5 L215.2,898.6 L215.3,897.6 L215.4,896.7 L215.4,895.7 L215.5,894.8 L215.5,893.8 L215.6,892.9 L215.6,892.0 L215.7,891.0 L215.7,890.1 L215.8,889.2 L215.8,888.2 L215.9,887.3 L216.0,886.4 L216.0,885.4 L216.1,884.5 L216.1,883.6 L216.2,882.7 L216.2,881.7 L216.3,880.8 L216.7,874.6 L217.0,868.4 L217.4,862.3 L217.8,856.3 L218.2,850.3 L218.5,844.4 L218.9,838.6 L219.3,832.8 L219.6,827.1 L220.0,821.5 L220.4,815.9 L220.8,810.4 L221.1,805.0 L221.5,799.6 L221.9,794.3 L222.2,789.1 L222.6,783.9 L223.0,778.8 L223.4,773.7 L223.7,768.7 L224.1,763.7 L224.5,758.8 L224.9,754.0 L225.2,749.2 L225.6,744.5 L226.0,739.9 L226.3,735.3 L226.7,730.7 L227.1,726.2 L227.5,721.7 L227.8,717.4 L228.2,713.0 L228.6,708.7 L229.0,704.5 L229.3,700.3 L229.7,696.1 L230.1,692.0 L230.4,688.0 L230.8,683.9 L231.2,680.0 L231.6,676.1 L231.9,672.2 L232.3,668.3 L232.7,664.6 L233.1,660.8 L233.4,657.1 L233.8,653.4 L234.2,649.8 L234.5,646.2 L234.9,642.7 L235.3,639.2 L235.7,635.7 L236.0,632.3 L236.4,628.9 L236.8,625.5 L237.2,622.2 L237.5,618.9 L237.9,615.6 L238.3,612.4 L238.6,609.2 L239.0,606.1 L239.4,602.9 L239.8,599.9 L240.1,596.8 L240.5,593.8 L240.9,590.8 L241.3,587.8 L241.6,584.9 L242.0,582.0 L242.4,579.1 L242.7,576.2 L243.1,573.4 L243.5,570.6 L243.9,567.9 L244.2,565.1 L244.6,562.4 L245.0,559.7 L245.4,557.1 L245.7,554.5 L246.1,551.9 L246.5,549.3 L246.8,546.7 L247.2,544.2 L247.6,541.7 L248.0,539.2 L248.3,536.7 L248.7,534.3 L249.1,531.9 L249.5,529.5 L249.8,527.1 L250.2,524.8 L250.6,522.5 L250.9,520.2 L251.3,517.9 L251.7,515.6 L252.1,513.4 L252.4,511.2 L252.8,509.0 L253.2,506.8 L253.6,504.6 L253.9,502.5 L254.3,500.3 L254.7,498.2 L255.0,496.2 L255.4,494.1 L255.8,492.0 L256.2,490.0 L256.5,488.0 L256.9,486.0 L257.3,484.0 L257.7,482.1 L258.0,480.1 L258.4,478.2 L258.8,476.3 L259.1,474.4 L259.5,472.5 L259.9,470.6 L260.3,468.8 L260.6,467.0 L261.0,465.1 L261.4,463.3 L261.8,461.6 L262.1,459.8 L262.5,458.0 L262.9,456.3 L263.2,454.6 L263.6,452.8 L264.0,451.1 L264.4,449.5 L264.7,447.8 L265.1,446.1 L265.5,444.5 L265.9,442.8 L266.2,441.2 L266.6,439.6 L267.0,438.0 L267.3,436.4 L267.7,434.9 L268.1,433.3 L268.5,431.8 L268.8,430.2 L269.2,428.7 L269.6,427.2 L270.0,425.7 L270.3,424.2 L270.7,422.8 L271.1,421.3 L271.4,419.8 L271.8,418.4 L272.2,417.0 L272.6,415.6 L272.9,414.2 L273.3,412.8 L273.7,411.4 L274.1,410.0 L274.4,408.6 L274.8,407.3 L275.2,405.9 L275.5,404.6 L275.9,403.3 L276.3,401.9 L276.7,400.6 L277.0,399.3 L277.4,398.1 L277.8,396.8 L278.1,395.5 L278.5,394.2 L278.9,393.0 L279.3,391.8 L279.6,390.5 L280.0,389.3 L280.4,388.1 L280.8,386.9 L281.1,385.7 L281.5,384.5 L281.9,383.3 L282.2,382.1 L282.6,381.0 L283.0,379.8 L283.4,378.7 L283.7,377.5 L284.1,376.4 L284.5,375.3 L284.9,374.1 L285.2,373.0 L285.6,371.9 L286.0,370.8 L286.3,369.8 L286.7,368.7 L287.1,367.6 L287.5,366.5 L287.8,365.5 L288.2,364.4 L288.6,363.4 L289.0,362.3 L289.3,361.3 L289.7,360.3 L290.1,359.3 L290.4,358.3 L292.6,352.6 L294.8,347.1 L296.9,341.8 L299.1,336.7 L301.2,331.7 L303.4,327.0 L305.5,322.4 L307.7,318.0 L309.8,313.7 L312.0,309.5 L314.2,305.5 L316.3,301.7 L318.5,297.9 L320.6,294.3 L322.8,290.8 L324.9,287.4 L327.1,284.1 L329.2,280.9 L331.4,277.8 L333.6,274.7 L335.7,271.8 L337.9,269.0 L340.0,266.2 L342.2,263.5 L344.3,260.9 L346.5,258.4 L348.6,255.9 L350.8,253.5 L353.0,251.2 L355.1,248.9 L357.3,246.7 L359.4,244.6 L361.6,242.5 L363.7,240.4 L365.9,238.5 L368.0,236.5 L370.2,234.6 L372.4,232.8 L374.5,231.0 L376.7,229.2 L378.8,227.5 L381.0,225.8 L383.1,224.2 L385.3,222.6 L387.4,221.1 L389.6,219.6 L391.8,218.1 L393.9,216.6 L396.1,215.2 L398.2,213.8 L400.4,212.5 L402.5,211.1 L404.7,209.8 L406.8,208.6 L409.0,207.3 L411.2,206.1 L413.3,204.9 L415.5,203.8 L417.6,202.6 L419.8,201.5 L421.9,200.4 L424.1,199.4 L426.2,198.3 L428.4,197.3 L430.6,196.3 L432.7,195.3 L434.9,194.4 L437.0,193.4 L439.2,192.5 L441.3,191.6 L443.5,190.7 L445.6,189.8 L447.8,189.0 L450.0,188.1 L452.1,187.3 L454.3,186.5 L456.4,185.7 L458.6,184.9 L460.7,184.2 L462.9,183.4 L465.0,182.7 L467.2,181.9 L469.4,181.2 L471.5,180.5 L473.7,179.9 L475.8,179.2 L478.0,178.5 L480.1,177.9 L482.3,177.2 L484.4,176.6 L486.6,176.0 L488.8,175.4 L490.9,174.8 L493.1,174.2 L495.2,173.6 L497.4,173.1 L499.5,172.5 L501.7,172.0 L503.8,171.4 L506.0,170.9 L508.2,170.4 L510.3,169.9 L512.5,169.4 L514.6,168.9 L516.8,168.4 L518.9,167.9 L521.1,167.4 L523.2,167.0 L525.4,166.5 L527.6,166.1 L529.7,165.6 L531.9,165.2 L534.0,164.8 L536.2,164.3 L538.3,163.9 L540.5,163.5 L542.6,163.1 L544.8,162.7 L547.0,162.3 L549.1,161.9 L551.3,161.5 L553.4,161.2 L555.6,160.8 L557.7,160.4 L559.9,160.1 L562.0,159.7 L564.2,159.4 L566.4,159.0 L568.5,158.7 L570.7,158.4 L572.8,158.0 L575.0,157.7 L577.1,157.4 L579.3,157.1 L581.4,156.8 L583.6,156.5 L585.8,156.2 L587.9,155.9 L590.1,155.6 L592.2,155.3 L594.4,155.0 L596.5,154.7 L598.7,154.4 L600.8,154.2 L603.0,153.9 L605.2,153.6 L607.3,153.4 L609.5,153.1 L611.6,152.8 L613.8,152.6 L615.9,152.3 L618.1,152.1 L620.2,151.8 L622.4,151.6 L624.6,151.4 L626.7,151.1 L628.9,150.9 L631.0,150.7 L633.2,150.4 L635.3,150.2 L637.5,150.0 L639.6,149.8 L641.8,149.6 L644.0,149.4 L646.1,149.1 L648.3,148.9 L650.4,148.7 L652.6,148.5 L654.7,148.3 L656.9,148.1 L659.0,147.9 L661.2,147.8 L663.4,147.6 L665.5,147.4 L667.7,147.2 L669.8,147.0 L672.0,146.8 L674.1,146.6 L676.3,146.5 L678.4,146.3 L680.6,146.1 L682.8,146.0 L684.9,145.8 L687.1,145.6 L689.2,145.5 L691.4,145.3 L693.5,145.1 L695.7,145.0 L697.8,144.8 L700.0,144.7 L702.2,144.5 L704.3,144.4 L706.5,144.2 L708.6,144.1 L710.8,143.9 L712.9,143.8 L715.1,143.6 L717.2,143.5 L719.4,143.3 L779.7,140.0 L795.0,139.3 L813.0,138.5 L832.5,137.7 L858.4,136.8 L883.7,136.0 L900.0,135.5 L1015.0,134.6 L1025.0,130.2 L1632.0,129.7"/>
<path stroke="#0099ff" d="M204.1,1056.0 L204.2,1054.6 L204.2,1052.5 L204.3,1050.6 L204.3,1048.7 L204.4,1046.9 L204.5,1045.2 L204.5,1043.5 L204.6,1041.9 L204.6,1040.3 L204.7,1038.8 L204.7,1037.3 L204.8,1035.8 L204.8,1034.4 L204.9,1033.0 L205.0,1031.6 L205.0,1030.3 L205.1,1028.9 L205.1,1027.6 L205.2,1026.3 L205.2,1025.1 L205.3,1023.8 L205.3,1022.6 L205.4,1021.4 L205.4,1020.2 L205.5,1019.0 L205.6,1017.8 L205.6,1016.6 L205.7,1015.5 L205.7,1014.4 L205.8,1013.2 L205.8,1012.1 L205.9,1011.0 L205.9,1009.9 L206.0,1008.9 L206.0,1007.8 L206.1,1006.7 L206.2,1005.7 L206.2,1004.6 L206.3,1003.6 L206.3,1002.6 L206.4,1001.6 L206.4,1000.6 L206.5,999.6 L206.5,998.6 L206.6,997.6 L206.6,996.6 L206.7,995.7 L206.8,994.7 L206.8,993.7 L206.9,992.8 L206.9,991.8 L207.0,990.9 L207.0,990.0 L207.1,989.0 L207.1,988.1 L207.2,987.2 L207.3,986.3 L207.3,985.4 L207.4,984.5 L207.4,983.6 L207.5,982.7 L207.5,981.8 L207.6,981.0 L207.6,980.1 L207.7,979.2 L207.7,978.4 L207.8,977.5 L207.9,976.6 L207.9,975.8 L208.0,975.0 L208.0,974.1 L208.1,973.3 L208.1,972.4 L208.2,971.6 L208.2,970.8 L208.3,970.0 L208.3,969.1 L208.4,968.3 L208.5,967.5 L208.5,966.7 L208.6,965.9 L208.6,965.1 L208.7,964.3 L208.7,963.5 L208.8,962.7 L208.8,961.9 L208.9,961.2 L208.9,960.4 L209.0,959.6 L209.1,958.8 L209.1,958.1 L209.2,957.3 L209.2,956.5 L209.3,955.8 L209.3,955.0 L209.4,954.3 L209.4,953.5 L209.5,952.8 L209.6,952.0 L209.6,951.3 L209.7,950.5 L209.7,949.8 L209.8,949.1 L209.8,948.3 L209.9,947.6 L209.9,946.9 L210.0,946.1 L210.0,945.4 L210.1,944.7 L210.2,944.0 L210.2,943.3 L210.3,942.5 L210.3,941.8 L210.4,941.1 L210.4,940.4 L210.5,939.7 L210.5,939.0 L210.6,938.3 L210.6,937.6 L210.7,936.9 L210.8,936.2 L210.8,935.5 L210.9,934.8 L210.9,934.2 L211.0,933.5 L211.0,932.8 L211.1,932.1 L211.1,931.4 L211.2,930.8 L211.2,930.1 L211.3,929.4 L211.4,928.7 L211.4,928.1 L211.5,927.4 L211.5,926.7 L211.6,926.1 L211.6,925.4 L211.7,924.8 L211.7,924.1 L211.8,923.4 L211.9,922.8 L211.9,922.1 L212.0,921.5 L212.0,920.8 L212.1,920.2 L212.1,919.6 L212.2,918.9 L212.2,918.3 L212.3,917.6 L212.3,917.0 L212.4,916.4 L212.5,915.7 L212.5,915.1 L212.6,914.5 L212.6,913.8 L212.7,913.2 L212.7,912.6 L212.8,911.9 L212.8,911.3 L212.9,910.7 L212.9,910.1 L213.0,909.5 L213.1,908.8 L213.1,908.2 L213.2,907.6 L213.2,907.0 L213.3,906.4 L213.3,905.8 L213.4,905.2 L213.4,904.6 L213.5,904.0 L213.5,903.3 L213.6,902.7 L213.7,902.1 L213.7,901.5 L213.8,900.9 L213.8,900.3 L213.9,899.7 L213.9,899.2 L214.0,898.6 L214.0,898.0 L214.1,897.4 L214.2,896.8 L214.2,896.2 L214.3,895.6 L214.3,895.0 L214.4,894.4 L214.4,893.9 L214.5,893.3 L214.5,892.7 L214.6,892.1 L214.6,891.5 L214.7,891.0 L214.8,890.4 L214.8,889.8 L214.9,889.2 L214.9,888.7 L215.0,888.1 L215.0,887.5 L215.1,887.0 L215.1,886.4 L215.2,885.8 L215.2,885.3 L215.3,884.7 L215.4,884.1 L215.4,883.6 L215.5,883.0 L215.5,882.4 L215.6,881.9 L215.6,881.3 L215.7,880.8 L215.7,880.2 L215.8,879.7 L215.8,879.1 L215.9,878.6 L216.0,878.0 L216.0,877.5 L216.1,876.9 L216.1,876.4 L216.2,875.8 L216.2,875.3 L216.3,874.7 L216.7,871.0 L217.0,867.4 L217.4,863.8 L217.8,860.3 L218.2,856.8 L218.5,853.3 L218.9,849.9 L219.3,846.5 L219.6,843.1 L220.0,839.8 L220.4,836.5 L220.8,833.3 L221.1,830.1 L221.5,826.9 L221.9,823.7 L222.2,820.6 L222.6,817.5 L223.0,814.4 L223.4,811.4 L223.7,808.4 L224.1,805.4 L224.5,802.4 L224.9,799.5 L225.2,796.6 L225.6,793.7 L226.0,790.9 L226.3,788.0 L226.7,785.2 L227.1,782.4 L227.5,779.7 L227.8,776.9 L228.2,774.2 L228.6,771.5 L229.0,768.8 L229.3,766.2 L229.7,763.5 L230.1,760.9 L230.4,758.3 L230.8,755.7 L231.2,753.1 L231.6,750.6 L231.9,748.1 L232.3,745.5 L232.7,743.1 L233.1,740.6 L233.4,738.1 L233.8,735.7 L234.2,733.3 L234.5,730.8 L234.9,728.4 L235.3,726.1 L235.7,723.7 L236.0,721.4 L236.4,719.0 L236.8,716.7 L237.2,714.4 L237.5,712.1 L237.9,709.8 L238.3,707.6 L238.6,705.3 L239.0,703.1 L239.4,700.9 L239.8,698.7 L240.1,696.5 L240.5,694.3 L240.9,692.1 L241.3,690.0 L241.6,687.9 L242.0,685.7 L242.4,683.6 L242.7,681.5 L243.1,679.4 L243.5,677.3 L243.9,675.3 L244.2,673.2 L244.6,671.2 L245.0,669.1 L245.4,667.1 L245.7,665.1 L246.1,663.1 L246.5,661.1 L246.8,659.2 L247.2,657.2 L247.6,655.2 L248.0,653.3 L248.3,651.4 L248.7,649.4 L249.1,647.5 L249.5,645.6 L249.8,643.7 L250.2,641.8 L250.6,640.0 L250.9,638.1 L251.3,636.2 L251.7,634.4 L252.1,632.6 L252.4,630.7 L252.8,628.9 L253.2,627.1 L253.6,625.3 L253.9,623.5 L254.3,621.7 L254.7,620.0 L255.0,618.2 L255.4,616.5 L255.8,614.7 L256.2,613.0 L256.5,611.3 L256.9,609.5 L257.3,607.8 L257.7,606.1 L258.0,604.4 L258.4,602.7 L258.8,601.1 L259.1,599.4 L259.5,597.7 L259.9,596.1 L260.3,594.4 L260.6,592.8 L261.0,591.2 L261.4,589.5 L261.8,587.9 L262.1,586.3 L262.5,584.7 L262.9,583.1 L263.2,581.5 L263.6,580.0 L264.0,578.4 L264.4,576.8 L264.7,575.3 L265.1,573.7 L265.5,572.2 L265.9,570.6 L266.2,569.1 L266.6,567.6 L267.0,566.1 L267.3,564.6 L267.7,563.1 L268.1,561.6 L268.5,560.1 L268.8,558.6 L269.2,557.1 L269.6,555.7 L270.0,554.2 L270.3,552.7 L270.7,551.3 L271.1,549.8 L271.4,548.4 L271.8,547.0 L272.2,545.6 L272.6,544.1 L272.9,542.7 L273.3,541.3 L273.7,539.9 L274.1,538.5 L274.4,537.1 L274.8,535.8 L275.2,534.4 L275.5,533.0 L275.9,531.7 L276.3,530.3 L276.7,528.9 L277.0,527.6 L277.4,526.3 L277.8,524.9 L278.1,523.6 L278.5,522.3 L278.9,521.0 L279.3,519.6 L279.6,518.3 L280.0,517.0 L280.4,515.7 L280.8,514.4 L281.1,513.2 L281.5,511.9 L281.9,510.6 L282.2,509.3 L282.6,508.1 L283.0,506.8 L283.4,505.6 L283.7,504.3 L284.1,503.1 L284.5,501.8 L284.9,500.6 L285.2,499.4 L285.6,498.1 L286.0,496.9 L286.3,495.7 L286.7,494.5 L287.1,493.3 L287.5,492.1 L287.8,490.9 L288.2,489.7 L288.6,488.5 L289.0,487.3 L289.3,486.2 L289.7,485.0 L290.1,483.8 L290.4,482.7 L292.6,476.0 L294.8,469.5 L296.9,463.2 L299.1,457.0 L301.2,450.9 L303.4,445.0 L305.5,439.2 L307.7,433.5 L309.8,427.9 L312.0,422.5 L314.2,417.2 L316.3,411.9 L318.5,406.8 L320.6,401.8 L322.8,396.9 L324.9,392.1 L327.1,387.4 L329.2,382.8 L331.4,378.3 L333.6,373.8 L335.7,369.5 L337.9,365.2 L340.0,361.0 L342.2,357.0 L344.3,352.9 L346.5,349.0 L348.6,345.1 L350.8,341.4 L353.0,337.6 L355.1,334.0 L357.3,330.4 L359.4,326.9 L361.6,323.5 L363.7,320.1 L365.9,316.8 L368.0,313.5 L370.2,310.4 L372.4,307.2 L374.5,304.2 L376.7,301.1 L378.8,298.2 L381.0,295.3 L383.1,292.4 L385.3,289.6 L387.4,286.9 L389.6,284.2 L391.8,281.5 L393.9,278.9 L396.1,276.4 L398.2,273.8 L400.4,271.4 L402.5,269.0 L404.7,266.6 L406.8,264.2 L409.0,262.0 L411.2,259.7 L413.3,257.5 L415.5,255.3 L417.6,253.2 L419.8,251.1 L421.9,249.0 L424.1,247.0 L426.2,245.0 L428.4,243.0 L430.6,241.1 L432.7,239.2 L434.9,237.4 L437.0,235.6 L439.2,233.8 L441.3,232.0 L443.5,230.3 L445.6,228.6 L447.8,226.9 L450.0,225.3 L452.1,223.6 L454.3,222.1 L456.4,220.5 L458.6,219.0 L460.7,217.5 L462.9,216.0 L465.0,214.5 L467.2,213.1 L469.4,211.7 L471.5,210.3 L473.7,208.9 L475.8,207.6 L478.0,206.3 L480.1,205.0 L482.3,203.7 L484.4,202.5 L486.6,201.2 L488.8,200.0 L490.9,198.9 L493.1,197.7 L495.2,196.5 L497.4,195.4 L499.5,194.3 L501.7,193.2 L503.8,192.1 L506.0,191.1 L508.2,190.0 L510.3,189.0 L512.5,188.0 L514.6,187.0 L516.8,186.1 L518.9,185.1 L521.1,184.2 L523.2,183.2 L525.4,182.3 L527.6,181.4 L529.7,180.6 L531.9,179.7 L534.0,178.8 L536.2,178.0 L538.3,177.2 L540.5,176.4 L542.6,175.6 L544.8,174.8 L547.0,174.0 L549.1,173.3 L551.3,172.5 L553.4,171.8 L555.6,171.1 L557.7,170.4 L559.9,169.7 L562.0,169.0 L564.2,168.3 L566.4,167.6 L568.5,167.0 L570.7,166.3 L572.8,165.7 L575.0,165.1 L577.1,164.5 L579.3,163.9 L581.4,163.3 L583.6,162.7 L585.8,162.1 L587.9,161.5 L590.1,161.0 L592.2,160.4 L594.4,159.9 L596.5,159.4 L598.7,158.9 L600.8,158.3 L603.0,157.8 L605.2,157.3 L607.3,156.9 L609.5,156.4 L611.6,155.9 L613.8,155.4 L615.9,155.0 L618.1,154.5 L620.2,154.1 L622.4,153.6 L624.6,153.2 L626.7,152.8 L628.9,152.4 L631.0,152.0 L633.2,151.6 L635.3,151.2 L637.5,150.8 L639.6,150.4 L641.8,150.0 L644.0,149.6 L646.1,149.3 L648.3,148.9 L650.4,148.6 L652.6,148.2 L654.7,147.9 L656.9,147.5 L659.0,147.2 L661.2,146.9 L663.4,146.5 L665.5,146.2 L667.7,145.9 L669.8,145.6 L672.0,145.3 L674.1,145.0 L676.3,144.7 L678.4,144.4 L680.6,144.1 L682.8,143.9 L684.9,143.6 L687.1,143.3 L689.2,143.1 L691.4,142.8 L693.5,142.5 L695.7,142.3 L697.8,142.0 L700.0,141.8 L702.2,141.5 L704.3,141.3 L706.5,141.1 L708.6,140.8 L710.8,140.6 L712.9,140.4 L715.1,140.2 L717.2,139.9 L719.4,139.7 L779.7,134.9 L795.0,134.0 L813.0,133.0 L832.5,132.1 L858.4,131.1 L883.7,130.3 L932.5,129.0 L1008.1,127.8 L1018.4,127.7 L1068.5,127.2 L1154.0,126.6 L1434.9,126.1 L1632.3,126.0"/>
</g>
<g filter="url(#bin)"><text id="y1" transform="translate(161.10,141.90) scale(1,1.04)" font-size="56">1</text><text id="y08" transform="translate(112.00,329.00) scale(1,1.04)" font-size="56" textLength="78.75" lengthAdjust="spacing">0.8</text><text id="y06" transform="translate(112.00,521.00) scale(1,1.04)" font-size="56" textLength="78.85" lengthAdjust="spacing">0.6</text><text id="y04" transform="translate(111.00,709.30) scale(1,1.04)" font-size="56" textLength="77.75" lengthAdjust="spacing">0.4</text><text id="y02" transform="translate(111.90,897.00) scale(1,1.04)" font-size="56" textLength="79.25" lengthAdjust="spacing">0.2</text><text id="y0" transform="translate(160.00,1089.00) scale(1,1.04)" font-size="56">0</text><text id="x0" transform="translate(195.00,1137.00) scale(1,1.04)" font-size="56">0</text><text id="x1" transform="translate(360.00,1137.00) scale(1,1.04)" font-size="56" textLength="122.18" lengthAdjust="spacing">1000</text><text id="x2" transform="translate(577.00,1137.00) scale(1,1.04)" font-size="56" textLength="124.58" lengthAdjust="spacing">2000</text><text id="x3" transform="translate(796.00,1137.00) scale(1,1.04)" font-size="56" textLength="122.78" lengthAdjust="spacing">3000</text><text id="x4" transform="translate(1014.00,1137.00) scale(1,1.04)" font-size="56" textLength="123.78" lengthAdjust="spacing">4000</text><text id="x5" transform="translate(1233.00,1137.00) scale(1,1.04)" font-size="56" textLength="122.78" lengthAdjust="spacing">5000</text><text id="x6" transform="translate(1450.00,1137.00) scale(1,1.04)" font-size="56" textLength="124.28" lengthAdjust="spacing">6000</text><text id="l1" transform="translate(761.00,469.00) scale(1,1.04)" font-size="56.8" textLength="377.18" lengthAdjust="spacing">Interval median</text><text id="l2" transform="translate(762.00,548.80) scale(1,1.04)" font-size="56.8" textLength="186.01" lengthAdjust="spacing">Scatter</text><text id="l3" transform="translate(762.00,631.30) scale(1,1.04)" font-size="56.8" textLength="589.62" lengthAdjust="spacing">Exponential distribution</text><text id="l4" transform="translate(763.50,713.75) scale(1,1.04)" font-size="56.8" textLength="478.95" lengthAdjust="spacing">Weibull distribution</text><text id="l5" transform="translate(761.50,796.25) scale(1,1.04)" font-size="56.8" textLength="472.29" lengthAdjust="spacing">Normal distribution</text><text id="l6" transform="translate(762.00,879.50) scale(1,1.04)" font-size="56.8" textLength="772.53" lengthAdjust="spacing">Logarithmic normal distribution</text><text id="l7" transform="translate(763.00,958.00) scale(1,1.04)" font-size="56.8" textLength="480.99" lengthAdjust="spacing">gamma distribution</text><text id="xl" transform="translate(804.00,1211.10) scale(1,1.03)" font-size="56" textLength="219.90" lengthAdjust="spacing">MTBF(h)</text><text id="yl" transform="translate(63.30,850.60) rotate(-90) scale(1,1.03)" font-size="57.4">Cumulative density F(t)</text></g>
<rect x="164.81" y="136.41" width="10.40" height="6.29" fill="#fff"/>
<rect x="180.00" y="136.41" width="10.58" height="6.29" fill="#fff"/>
<rect x="363.71" y="1131.51" width="10.40" height="6.29" fill="#fff"/>
<rect x="378.90" y="1131.51" width="10.58" height="6.29" fill="#fff"/>
<path d="M656.1,427.7 L673.0,448.5 L656.1,469.3 L639.2,448.5 Z" fill="#ff0" stroke="#f00" stroke-width="2"/>
<circle cx="658" cy="533.5" r="15.9" fill="#000"/>
<rect x="569" y="605.3" width="175" height="10" fill="#ff0000"/>
<rect x="569" y="687.5" width="175" height="10" fill="#ff00ff"/>
<rect x="569" y="770.5" width="175" height="10" fill="#0000ff"/>
<rect x="569" y="849.6" width="175" height="10" fill="#008000"/>
<rect x="569" y="932.6" width="175" height="10" fill="#0099ff"/>
</svg></body></html>
